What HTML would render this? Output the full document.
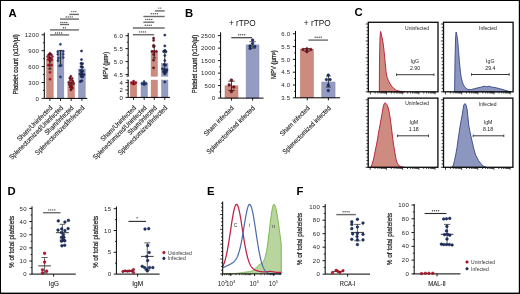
<!DOCTYPE html><html><head><meta charset="utf-8"><style>html,body{margin:0;padding:0;background:#fff;}svg{display:block;filter:blur(0.25px);}text{font-family:"Liberation Sans", sans-serif;}</style></head><body>
<svg width="520" height="294" viewBox="0 0 520 294">
<rect x="0" y="0" width="520" height="294" fill="#000"/>
<rect x="1" y="1" width="517.8" height="291.6" fill="#fff"/>
<text x="8.6" y="17" font-size="11.3" text-anchor="start" fill="#000" font-weight="bold">A</text>
<text x="184.9" y="16.8" font-size="11.3" text-anchor="start" fill="#000" font-weight="bold">B</text>
<text x="354.4" y="16.2" font-size="11.3" text-anchor="start" fill="#000" font-weight="bold">C</text>
<text x="7.4" y="195.4" font-size="11.3" text-anchor="start" fill="#000" font-weight="bold">D</text>
<text x="206.9" y="195.4" font-size="11.3" text-anchor="start" fill="#000" font-weight="bold">E</text>
<text x="296.6" y="195.4" font-size="11.3" text-anchor="start" fill="#000" font-weight="bold">F</text>
<line x1="44.3" y1="32.6" x2="44.3" y2="98.4" stroke="#000" stroke-width="1"/>
<line x1="41.6" y1="98.4" x2="44.3" y2="98.4" stroke="#000" stroke-width="0.9"/>
<text x="39.2" y="100.55" font-size="6.0" text-anchor="end" fill="#1e1e1e" letter-spacing="0.3">0</text>
<line x1="41.6" y1="82.5" x2="44.3" y2="82.5" stroke="#000" stroke-width="0.9"/>
<text x="39.2" y="84.65" font-size="6.0" text-anchor="end" fill="#1e1e1e" letter-spacing="0.3">300</text>
<line x1="41.6" y1="66.6" x2="44.3" y2="66.6" stroke="#000" stroke-width="0.9"/>
<text x="39.2" y="68.75" font-size="6.0" text-anchor="end" fill="#1e1e1e" letter-spacing="0.3">600</text>
<line x1="41.6" y1="50.7" x2="44.3" y2="50.7" stroke="#000" stroke-width="0.9"/>
<text x="39.2" y="52.85" font-size="6.0" text-anchor="end" fill="#1e1e1e" letter-spacing="0.3">900</text>
<line x1="41.6" y1="34.8" x2="44.3" y2="34.8" stroke="#000" stroke-width="0.9"/>
<text x="39.2" y="36.95" font-size="6.0" text-anchor="end" fill="#1e1e1e" letter-spacing="0.3">1200</text>
<line x1="42.9" y1="90.45" x2="44.3" y2="90.45" stroke="#000" stroke-width="0.8"/>
<line x1="42.9" y1="74.55" x2="44.3" y2="74.55" stroke="#000" stroke-width="0.8"/>
<line x1="42.9" y1="58.65" x2="44.3" y2="58.65" stroke="#000" stroke-width="0.8"/>
<line x1="42.9" y1="42.75" x2="44.3" y2="42.75" stroke="#000" stroke-width="0.8"/>
<rect x="46.6" y="59" width="6.6" height="39.4" fill="#cd8b7f" stroke="#bf7a6e" stroke-width="0.5"/>
<rect x="57.25" y="50.4" width="6.6" height="48" fill="#949cc2" stroke="#8088b3" stroke-width="0.5"/>
<rect x="67.9" y="83" width="6.6" height="15.4" fill="#cd8b7f" stroke="#bf7a6e" stroke-width="0.5"/>
<rect x="78.6" y="69" width="6.6" height="29.4" fill="#949cc2" stroke="#8088b3" stroke-width="0.5"/>
<line x1="44.3" y1="98.4" x2="87.3" y2="98.4" stroke="#000" stroke-width="1"/>
<line x1="49.9" y1="98.4" x2="49.9" y2="100.9" stroke="#000" stroke-width="0.9"/>
<line x1="60.55" y1="98.4" x2="60.55" y2="100.9" stroke="#000" stroke-width="0.9"/>
<line x1="71.2" y1="98.4" x2="71.2" y2="100.9" stroke="#000" stroke-width="0.9"/>
<line x1="81.9" y1="98.4" x2="81.9" y2="100.9" stroke="#000" stroke-width="0.9"/>
<circle cx="50" cy="53.3" r="1.1" fill="#c41230" stroke="#6a0a14" stroke-width="0.45"/>
<circle cx="48.6" cy="54.8" r="1.1" fill="#c41230" stroke="#6a0a14" stroke-width="0.45"/>
<circle cx="51.4" cy="54.8" r="1.1" fill="#c41230" stroke="#6a0a14" stroke-width="0.45"/>
<circle cx="47.6" cy="56.6" r="1.1" fill="#c41230" stroke="#6a0a14" stroke-width="0.45"/>
<circle cx="52.4" cy="56.6" r="1.1" fill="#c41230" stroke="#6a0a14" stroke-width="0.45"/>
<circle cx="49.2" cy="57.6" r="1.1" fill="#c41230" stroke="#6a0a14" stroke-width="0.45"/>
<circle cx="51" cy="58.2" r="1.1" fill="#c41230" stroke="#6a0a14" stroke-width="0.45"/>
<circle cx="48.2" cy="59.4" r="1.1" fill="#c41230" stroke="#6a0a14" stroke-width="0.45"/>
<circle cx="51.8" cy="59.6" r="1.1" fill="#c41230" stroke="#6a0a14" stroke-width="0.45"/>
<circle cx="50" cy="61" r="1.1" fill="#c41230" stroke="#6a0a14" stroke-width="0.45"/>
<circle cx="48.4" cy="65.2" r="1.1" fill="#c41230" stroke="#6a0a14" stroke-width="0.45"/>
<circle cx="51.6" cy="65.2" r="1.1" fill="#c41230" stroke="#6a0a14" stroke-width="0.45"/>
<circle cx="50" cy="72.3" r="1.1" fill="#c41230" stroke="#6a0a14" stroke-width="0.45"/>
<circle cx="50" cy="79.2" r="1.1" fill="#c41230" stroke="#6a0a14" stroke-width="0.45"/>
<line x1="49.9" y1="54" x2="49.9" y2="69" stroke="#111" stroke-width="0.9"/>
<line x1="48.2" y1="54" x2="51.6" y2="54" stroke="#111" stroke-width="0.9"/>
<line x1="48.2" y1="69" x2="51.6" y2="69" stroke="#111" stroke-width="0.9"/>
<line x1="60.55" y1="50.4" x2="60.55" y2="65.9" stroke="#111" stroke-width="0.8"/>
<line x1="58.85" y1="50.4" x2="62.25" y2="50.4" stroke="#111" stroke-width="0.8"/>
<line x1="58.85" y1="65.9" x2="62.25" y2="65.9" stroke="#111" stroke-width="0.8"/>
<circle cx="60.4" cy="44.3" r="1.1" fill="#2c4a94" stroke="#14265a" stroke-width="0.45"/>
<circle cx="57.8" cy="51.7" r="1.1" fill="#2c4a94" stroke="#14265a" stroke-width="0.45"/>
<circle cx="63.2" cy="51.3" r="1.1" fill="#2c4a94" stroke="#14265a" stroke-width="0.45"/>
<circle cx="57.8" cy="54.3" r="1.1" fill="#2c4a94" stroke="#14265a" stroke-width="0.45"/>
<circle cx="63.2" cy="54.3" r="1.1" fill="#2c4a94" stroke="#14265a" stroke-width="0.45"/>
<circle cx="58.4" cy="58.2" r="1.1" fill="#2c4a94" stroke="#14265a" stroke-width="0.45"/>
<circle cx="63.2" cy="57.5" r="1.1" fill="#2c4a94" stroke="#14265a" stroke-width="0.45"/>
<circle cx="58" cy="60.7" r="1.1" fill="#2c4a94" stroke="#14265a" stroke-width="0.45"/>
<circle cx="59.7" cy="65.9" r="1.1" fill="#2c4a94" stroke="#14265a" stroke-width="0.45"/>
<circle cx="61" cy="65.3" r="1.1" fill="#2c4a94" stroke="#14265a" stroke-width="0.45"/>
<circle cx="60.4" cy="76.9" r="1.1" fill="#2c4a94" stroke="#14265a" stroke-width="0.45"/>
<circle cx="70.8" cy="76.3" r="1.1" fill="#a30f22" stroke="#1f0004" stroke-width="0.45"/>
<circle cx="69.8" cy="78.2" r="1.1" fill="#a30f22" stroke="#1f0004" stroke-width="0.45"/>
<circle cx="72.2" cy="78.6" r="1.1" fill="#a30f22" stroke="#1f0004" stroke-width="0.45"/>
<circle cx="70.5" cy="80.2" r="1.1" fill="#a30f22" stroke="#1f0004" stroke-width="0.45"/>
<circle cx="72.8" cy="81.2" r="1.1" fill="#a30f22" stroke="#1f0004" stroke-width="0.45"/>
<circle cx="68.8" cy="82.3" r="1.1" fill="#a30f22" stroke="#1f0004" stroke-width="0.45"/>
<circle cx="71.2" cy="82.8" r="1.1" fill="#a30f22" stroke="#1f0004" stroke-width="0.45"/>
<circle cx="73.6" cy="83.4" r="1.1" fill="#a30f22" stroke="#1f0004" stroke-width="0.45"/>
<circle cx="69.6" cy="84.6" r="1.1" fill="#a30f22" stroke="#1f0004" stroke-width="0.45"/>
<circle cx="71.8" cy="85.6" r="1.1" fill="#a30f22" stroke="#1f0004" stroke-width="0.45"/>
<circle cx="70.4" cy="87.2" r="1.1" fill="#a30f22" stroke="#1f0004" stroke-width="0.45"/>
<circle cx="72.4" cy="88" r="1.1" fill="#a30f22" stroke="#1f0004" stroke-width="0.45"/>
<circle cx="71" cy="89.8" r="1.1" fill="#a30f22" stroke="#1f0004" stroke-width="0.45"/>
<line x1="81.9" y1="63" x2="81.9" y2="77" stroke="#111" stroke-width="0.8"/>
<line x1="80.2" y1="63" x2="83.6" y2="63" stroke="#111" stroke-width="0.8"/>
<line x1="80.2" y1="77" x2="83.6" y2="77" stroke="#111" stroke-width="0.8"/>
<circle cx="81.5" cy="51" r="1.1" fill="#1d3570" stroke="#081230" stroke-width="0.45"/>
<circle cx="81.5" cy="59.6" r="1.1" fill="#1d3570" stroke="#081230" stroke-width="0.45"/>
<circle cx="81" cy="63.6" r="1.1" fill="#1d3570" stroke="#081230" stroke-width="0.45"/>
<circle cx="82.4" cy="63.8" r="1.1" fill="#1d3570" stroke="#081230" stroke-width="0.45"/>
<circle cx="81" cy="66.7" r="1.1" fill="#1d3570" stroke="#081230" stroke-width="0.45"/>
<circle cx="82.6" cy="67.2" r="1.1" fill="#1d3570" stroke="#081230" stroke-width="0.45"/>
<circle cx="80.5" cy="70.6" r="1.1" fill="#1d3570" stroke="#081230" stroke-width="0.45"/>
<circle cx="82.8" cy="71" r="1.1" fill="#1d3570" stroke="#081230" stroke-width="0.45"/>
<circle cx="81.6" cy="72.5" r="1.1" fill="#1d3570" stroke="#081230" stroke-width="0.45"/>
<circle cx="80" cy="74" r="1.1" fill="#1d3570" stroke="#081230" stroke-width="0.45"/>
<circle cx="82.2" cy="74.2" r="1.1" fill="#1d3570" stroke="#081230" stroke-width="0.45"/>
<circle cx="84" cy="74.7" r="1.1" fill="#1d3570" stroke="#081230" stroke-width="0.45"/>
<circle cx="81" cy="76" r="1.1" fill="#1d3570" stroke="#081230" stroke-width="0.45"/>
<circle cx="82.5" cy="76.9" r="1.1" fill="#1d3570" stroke="#081230" stroke-width="0.45"/>
<circle cx="81.8" cy="80.8" r="1.1" fill="#1d3570" stroke="#081230" stroke-width="0.45"/>
<circle cx="80.3" cy="81.6" r="1.1" fill="#1d3570" stroke="#081230" stroke-width="0.45"/>
<line x1="50" y1="34.9" x2="69.1" y2="34.9" stroke="#6c6c6c" stroke-width="1.4"/>
<ellipse cx="55.6" cy="33" rx="0.72" ry="0.68" fill="#4a4a4a"/>
<ellipse cx="57.6" cy="33" rx="0.72" ry="0.68" fill="#4a4a4a"/>
<ellipse cx="59.6" cy="33" rx="0.72" ry="0.68" fill="#4a4a4a"/>
<ellipse cx="61.6" cy="33" rx="0.72" ry="0.68" fill="#4a4a4a"/>
<line x1="50" y1="29.9" x2="79" y2="29.9" stroke="#6c6c6c" stroke-width="1.4"/>
<ellipse cx="63.4" cy="27.8" rx="0.72" ry="0.68" fill="#4a4a4a"/>
<ellipse cx="65.4" cy="27.8" rx="0.72" ry="0.68" fill="#4a4a4a"/>
<line x1="60" y1="24.5" x2="69.1" y2="24.5" stroke="#6c6c6c" stroke-width="1.4"/>
<ellipse cx="60.8" cy="22.4" rx="0.72" ry="0.68" fill="#4a4a4a"/>
<ellipse cx="62.8" cy="22.4" rx="0.72" ry="0.68" fill="#4a4a4a"/>
<ellipse cx="64.8" cy="22.4" rx="0.72" ry="0.68" fill="#4a4a4a"/>
<ellipse cx="66.8" cy="22.4" rx="0.72" ry="0.68" fill="#4a4a4a"/>
<line x1="60" y1="19.1" x2="79" y2="19.1" stroke="#6c6c6c" stroke-width="1.4"/>
<ellipse cx="66.2" cy="16.9" rx="0.72" ry="0.68" fill="#4a4a4a"/>
<ellipse cx="68.2" cy="16.9" rx="0.72" ry="0.68" fill="#4a4a4a"/>
<ellipse cx="70.2" cy="16.9" rx="0.72" ry="0.68" fill="#4a4a4a"/>
<ellipse cx="72.2" cy="16.9" rx="0.72" ry="0.68" fill="#4a4a4a"/>
<line x1="69.2" y1="14.4" x2="79" y2="14.4" stroke="#6c6c6c" stroke-width="1.4"/>
<ellipse cx="71.8" cy="11.6" rx="0.72" ry="0.68" fill="#4a4a4a"/>
<ellipse cx="73.8" cy="11.6" rx="0.72" ry="0.68" fill="#4a4a4a"/>
<ellipse cx="75.8" cy="11.6" rx="0.72" ry="0.68" fill="#4a4a4a"/>
<text x="17.6" y="64.3" font-size="7.0" text-anchor="middle" fill="#1a1a1a" transform="rotate(-90 17.6 64.3)" textLength="60.3" lengthAdjust="spacingAndGlyphs" stroke="#1a1a1a" stroke-width="0.22">Platelet count (x10³/µl)</text>
<text x="52.9" y="108.4" font-size="6.9" text-anchor="end" fill="#1c1c1c" transform="rotate(-45 52.9 108.4)" textLength="47" lengthAdjust="spacingAndGlyphs" stroke="#1c1c1c" stroke-width="0.12">Sham/Uninfected</text>
<text x="63.55" y="108.4" font-size="6.9" text-anchor="end" fill="#1c1c1c" transform="rotate(-45 63.55 108.4)" textLength="73" lengthAdjust="spacingAndGlyphs" stroke="#1c1c1c" stroke-width="0.12">Splenectomized/Uninfected</text>
<text x="74.2" y="108.4" font-size="6.9" text-anchor="end" fill="#1c1c1c" transform="rotate(-45 74.2 108.4)" textLength="38" lengthAdjust="spacingAndGlyphs" stroke="#1c1c1c" stroke-width="0.12">Sham/Infected</text>
<text x="84.9" y="108.4" font-size="6.9" text-anchor="end" fill="#1c1c1c" transform="rotate(-45 84.9 108.4)" textLength="66.5" lengthAdjust="spacingAndGlyphs" stroke="#1c1c1c" stroke-width="0.12">Splenectomized/Infected</text>
<line x1="128.2" y1="32.9" x2="128.2" y2="76.2" stroke="#000" stroke-width="1"/>
<line x1="126.6" y1="76.2" x2="128.8" y2="76.2" stroke="#000" stroke-width="0.8"/>
<line x1="125.5" y1="35.7" x2="128.2" y2="35.7" stroke="#000" stroke-width="0.9"/>
<text x="123.1" y="37.85" font-size="6.0" text-anchor="end" fill="#1e1e1e" letter-spacing="0.3">6.0</text>
<line x1="125.5" y1="48.65" x2="128.2" y2="48.65" stroke="#000" stroke-width="0.9"/>
<text x="123.1" y="50.8" font-size="6.0" text-anchor="end" fill="#1e1e1e" letter-spacing="0.3">5.5</text>
<line x1="125.5" y1="61.6" x2="128.2" y2="61.6" stroke="#000" stroke-width="0.9"/>
<text x="123.1" y="63.75" font-size="6.0" text-anchor="end" fill="#1e1e1e" letter-spacing="0.3">5.0</text>
<line x1="125.5" y1="74.55" x2="128.2" y2="74.55" stroke="#000" stroke-width="0.9"/>
<text x="123.1" y="76.7" font-size="6.0" text-anchor="end" fill="#1e1e1e" letter-spacing="0.3">4.5</text>
<line x1="126.8" y1="42.18" x2="128.2" y2="42.18" stroke="#000" stroke-width="0.8"/>
<line x1="126.8" y1="55.12" x2="128.2" y2="55.12" stroke="#000" stroke-width="0.8"/>
<line x1="126.8" y1="68.08" x2="128.2" y2="68.08" stroke="#000" stroke-width="0.8"/>
<line x1="128.2" y1="80.1" x2="128.2" y2="97.4" stroke="#000" stroke-width="1"/>
<line x1="126.6" y1="80.1" x2="128.8" y2="80.1" stroke="#000" stroke-width="0.8"/>
<line x1="125.5" y1="82.6" x2="128.2" y2="82.6" stroke="#000" stroke-width="0.9"/>
<text x="123.1" y="84.75" font-size="6.0" text-anchor="end" fill="#1e1e1e" letter-spacing="0.3">4</text>
<line x1="125.5" y1="90" x2="128.2" y2="90" stroke="#000" stroke-width="0.9"/>
<text x="123.1" y="92.15" font-size="6.0" text-anchor="end" fill="#1e1e1e" letter-spacing="0.3">2</text>
<line x1="125.5" y1="97.4" x2="128.2" y2="97.4" stroke="#000" stroke-width="0.9"/>
<text x="123.1" y="99.55" font-size="6.0" text-anchor="end" fill="#1e1e1e" letter-spacing="0.3">0</text>
<line x1="126.8" y1="93.7" x2="128.2" y2="93.7" stroke="#000" stroke-width="0.8"/>
<line x1="126.8" y1="86.3" x2="128.2" y2="86.3" stroke="#000" stroke-width="0.8"/>
<rect x="130.35" y="83.5" width="6.3" height="13.9" fill="#cd8b7f" stroke="#bf7a6e" stroke-width="0.5"/>
<rect x="141.05" y="84" width="6.3" height="13.4" fill="#949cc2" stroke="#8088b3" stroke-width="0.5"/>
<rect x="151.1" y="80.1" width="6.3" height="17.3" fill="#cd8b7f" stroke="#bf7a6e" stroke-width="0.5"/>
<rect x="161.6" y="80.1" width="6.3" height="17.3" fill="#949cc2" stroke="#8088b3" stroke-width="0.5"/>
<rect x="151.1" y="52.3" width="6.3" height="23.9" fill="#cd8b7f" stroke="#bf7a6e" stroke-width="0.5"/>
<rect x="161.6" y="63.5" width="6.3" height="12.7" fill="#949cc2" stroke="#8088b3" stroke-width="0.5"/>
<line x1="128.2" y1="97.4" x2="170" y2="97.4" stroke="#000" stroke-width="1"/>
<line x1="133.5" y1="97.4" x2="133.5" y2="99.9" stroke="#000" stroke-width="0.9"/>
<line x1="144.2" y1="97.4" x2="144.2" y2="99.9" stroke="#000" stroke-width="0.9"/>
<line x1="154.25" y1="97.4" x2="154.25" y2="99.9" stroke="#000" stroke-width="0.9"/>
<line x1="164.75" y1="97.4" x2="164.75" y2="99.9" stroke="#000" stroke-width="0.9"/>
<circle cx="131.4" cy="82.6" r="1.1" fill="#c41230" stroke="#6a0a14" stroke-width="0.45"/>
<circle cx="133.6" cy="81.2" r="1.1" fill="#c41230" stroke="#6a0a14" stroke-width="0.45"/>
<circle cx="135.9" cy="82.6" r="1.1" fill="#c41230" stroke="#6a0a14" stroke-width="0.45"/>
<circle cx="133.6" cy="84" r="1.1" fill="#c41230" stroke="#6a0a14" stroke-width="0.45"/>
<circle cx="132.4" cy="83.5" r="1.1" fill="#c41230" stroke="#6a0a14" stroke-width="0.45"/>
<circle cx="134.8" cy="83.5" r="1.1" fill="#c41230" stroke="#6a0a14" stroke-width="0.45"/>
<line x1="133.6" y1="81.5" x2="133.6" y2="84.2" stroke="#111" stroke-width="0.9"/>
<circle cx="141.9" cy="83.4" r="1.1" fill="#2c4a94" stroke="#14265a" stroke-width="0.45"/>
<circle cx="144.1" cy="81.6" r="1.1" fill="#2c4a94" stroke="#14265a" stroke-width="0.45"/>
<circle cx="146.2" cy="83.4" r="1.1" fill="#2c4a94" stroke="#14265a" stroke-width="0.45"/>
<circle cx="144.1" cy="84.6" r="1.1" fill="#2c4a94" stroke="#14265a" stroke-width="0.45"/>
<circle cx="143" cy="83.9" r="1.1" fill="#2c4a94" stroke="#14265a" stroke-width="0.45"/>
<circle cx="145.2" cy="83.9" r="1.1" fill="#2c4a94" stroke="#14265a" stroke-width="0.45"/>
<line x1="144.1" y1="82" x2="144.1" y2="84.6" stroke="#111" stroke-width="0.9"/>
<line x1="154.25" y1="46" x2="154.25" y2="58" stroke="#111" stroke-width="0.8"/>
<line x1="152.65" y1="46" x2="155.85" y2="46" stroke="#111" stroke-width="0.8"/>
<line x1="152.65" y1="58" x2="155.85" y2="58" stroke="#111" stroke-width="0.8"/>
<circle cx="153.6" cy="38.2" r="1.1" fill="#a30f22" stroke="#1f0004" stroke-width="0.45"/>
<circle cx="153.6" cy="40.4" r="1.1" fill="#a30f22" stroke="#1f0004" stroke-width="0.45"/>
<circle cx="153.6" cy="45.3" r="1.1" fill="#a30f22" stroke="#1f0004" stroke-width="0.45"/>
<circle cx="153.6" cy="46.7" r="1.1" fill="#a30f22" stroke="#1f0004" stroke-width="0.45"/>
<circle cx="152" cy="51.4" r="1.1" fill="#a30f22" stroke="#1f0004" stroke-width="0.45"/>
<circle cx="154.2" cy="51.4" r="1.1" fill="#a30f22" stroke="#1f0004" stroke-width="0.45"/>
<circle cx="156.4" cy="51.4" r="1.1" fill="#a30f22" stroke="#1f0004" stroke-width="0.45"/>
<circle cx="153.6" cy="54.5" r="1.1" fill="#a30f22" stroke="#1f0004" stroke-width="0.45"/>
<circle cx="153.6" cy="60.2" r="1.1" fill="#a30f22" stroke="#1f0004" stroke-width="0.45"/>
<circle cx="153.6" cy="67.8" r="1.1" fill="#a30f22" stroke="#1f0004" stroke-width="0.45"/>
<line x1="164.75" y1="50.4" x2="164.75" y2="72.9" stroke="#111" stroke-width="0.8"/>
<line x1="162.95" y1="50.4" x2="166.55" y2="50.4" stroke="#111" stroke-width="0.8"/>
<line x1="162.95" y1="72.9" x2="166.55" y2="72.9" stroke="#111" stroke-width="0.8"/>
<circle cx="164.8" cy="35.1" r="1.1" fill="#1d3570" stroke="#081230" stroke-width="0.45"/>
<circle cx="164.8" cy="45.9" r="1.1" fill="#1d3570" stroke="#081230" stroke-width="0.45"/>
<circle cx="164.8" cy="50.4" r="1.1" fill="#1d3570" stroke="#081230" stroke-width="0.45"/>
<circle cx="163.6" cy="51.6" r="1.1" fill="#1d3570" stroke="#081230" stroke-width="0.45"/>
<circle cx="166" cy="51.8" r="1.1" fill="#1d3570" stroke="#081230" stroke-width="0.45"/>
<circle cx="164.8" cy="55.5" r="1.1" fill="#1d3570" stroke="#081230" stroke-width="0.45"/>
<circle cx="164.8" cy="60.6" r="1.1" fill="#1d3570" stroke="#081230" stroke-width="0.45"/>
<circle cx="164" cy="64.7" r="1.1" fill="#1d3570" stroke="#081230" stroke-width="0.45"/>
<circle cx="165.6" cy="64.9" r="1.1" fill="#1d3570" stroke="#081230" stroke-width="0.45"/>
<circle cx="162.5" cy="68.8" r="1.1" fill="#1d3570" stroke="#081230" stroke-width="0.45"/>
<circle cx="164.8" cy="69.8" r="1.1" fill="#1d3570" stroke="#081230" stroke-width="0.45"/>
<circle cx="167" cy="69.8" r="1.1" fill="#1d3570" stroke="#081230" stroke-width="0.45"/>
<circle cx="163.4" cy="71.6" r="1.1" fill="#1d3570" stroke="#081230" stroke-width="0.45"/>
<circle cx="166.2" cy="71.8" r="1.1" fill="#1d3570" stroke="#081230" stroke-width="0.45"/>
<circle cx="164.8" cy="73.9" r="1.1" fill="#1d3570" stroke="#081230" stroke-width="0.45"/>
<circle cx="164.8" cy="82" r="1.1" fill="#1d3570" stroke="#081230" stroke-width="0.45"/>
<line x1="132.9" y1="34.7" x2="154.2" y2="34.7" stroke="#6c6c6c" stroke-width="1.4"/>
<ellipse cx="139.5" cy="31.9" rx="0.72" ry="0.68" fill="#4a4a4a"/>
<ellipse cx="141.5" cy="31.9" rx="0.72" ry="0.68" fill="#4a4a4a"/>
<ellipse cx="143.5" cy="31.9" rx="0.72" ry="0.68" fill="#4a4a4a"/>
<ellipse cx="145.5" cy="31.9" rx="0.72" ry="0.68" fill="#4a4a4a"/>
<line x1="132.9" y1="28" x2="164.7" y2="28" stroke="#6c6c6c" stroke-width="1.4"/>
<ellipse cx="145.2" cy="25.2" rx="0.72" ry="0.68" fill="#4a4a4a"/>
<ellipse cx="147.2" cy="25.2" rx="0.72" ry="0.68" fill="#4a4a4a"/>
<ellipse cx="149.2" cy="25.2" rx="0.72" ry="0.68" fill="#4a4a4a"/>
<ellipse cx="151.2" cy="25.2" rx="0.72" ry="0.68" fill="#4a4a4a"/>
<line x1="143.4" y1="22.2" x2="154.2" y2="22.2" stroke="#6c6c6c" stroke-width="1.4"/>
<ellipse cx="145.8" cy="19.4" rx="0.72" ry="0.68" fill="#4a4a4a"/>
<ellipse cx="147.8" cy="19.4" rx="0.72" ry="0.68" fill="#4a4a4a"/>
<ellipse cx="149.8" cy="19.4" rx="0.72" ry="0.68" fill="#4a4a4a"/>
<ellipse cx="151.8" cy="19.4" rx="0.72" ry="0.68" fill="#4a4a4a"/>
<line x1="143.4" y1="16.5" x2="164.7" y2="16.5" stroke="#6c6c6c" stroke-width="1.4"/>
<ellipse cx="151.3" cy="13.7" rx="0.72" ry="0.68" fill="#4a4a4a"/>
<ellipse cx="153.3" cy="13.7" rx="0.72" ry="0.68" fill="#4a4a4a"/>
<ellipse cx="155.3" cy="13.7" rx="0.72" ry="0.68" fill="#4a4a4a"/>
<ellipse cx="157.3" cy="13.7" rx="0.72" ry="0.68" fill="#4a4a4a"/>
<line x1="154.9" y1="10.9" x2="164.7" y2="10.9" stroke="#6c6c6c" stroke-width="1.4"/>
<ellipse cx="158.8" cy="8.1" rx="0.72" ry="0.68" fill="#4a4a4a"/>
<ellipse cx="160.8" cy="8.1" rx="0.72" ry="0.68" fill="#4a4a4a"/>
<text x="107.8" y="65.7" font-size="7.0" text-anchor="middle" fill="#1a1a1a" transform="rotate(-90 107.8 65.7)" textLength="27.7" lengthAdjust="spacingAndGlyphs" stroke="#1a1a1a" stroke-width="0.22">MPV (µm³)</text>
<text x="136.5" y="108.4" font-size="6.9" text-anchor="end" fill="#1c1c1c" transform="rotate(-45 136.5 108.4)" textLength="47" lengthAdjust="spacingAndGlyphs" stroke="#1c1c1c" stroke-width="0.12">Sham/Uninfected</text>
<text x="147.2" y="108.4" font-size="6.9" text-anchor="end" fill="#1c1c1c" transform="rotate(-45 147.2 108.4)" textLength="73" lengthAdjust="spacingAndGlyphs" stroke="#1c1c1c" stroke-width="0.12">Splenectomized/Uninfected</text>
<text x="157.25" y="108.4" font-size="6.9" text-anchor="end" fill="#1c1c1c" transform="rotate(-45 157.25 108.4)" textLength="38" lengthAdjust="spacingAndGlyphs" stroke="#1c1c1c" stroke-width="0.12">Sham/Infected</text>
<text x="167.75" y="108.4" font-size="6.9" text-anchor="end" fill="#1c1c1c" transform="rotate(-45 167.75 108.4)" textLength="66.5" lengthAdjust="spacingAndGlyphs" stroke="#1c1c1c" stroke-width="0.12">Splenectomized/Infected</text>
<line x1="220.6" y1="32.3" x2="220.6" y2="98.1" stroke="#000" stroke-width="1"/>
<line x1="217.9" y1="98.1" x2="220.6" y2="98.1" stroke="#000" stroke-width="0.9"/>
<text x="215.5" y="100.25" font-size="6.0" text-anchor="end" fill="#1e1e1e" letter-spacing="0.3">0</text>
<line x1="217.9" y1="85.6" x2="220.6" y2="85.6" stroke="#000" stroke-width="0.9"/>
<text x="215.5" y="87.75" font-size="6.0" text-anchor="end" fill="#1e1e1e" letter-spacing="0.3">500</text>
<line x1="217.9" y1="73.1" x2="220.6" y2="73.1" stroke="#000" stroke-width="0.9"/>
<text x="215.5" y="75.25" font-size="6.0" text-anchor="end" fill="#1e1e1e" letter-spacing="0.3">1000</text>
<line x1="217.9" y1="60.6" x2="220.6" y2="60.6" stroke="#000" stroke-width="0.9"/>
<text x="215.5" y="62.75" font-size="6.0" text-anchor="end" fill="#1e1e1e" letter-spacing="0.3">1500</text>
<line x1="217.9" y1="48.1" x2="220.6" y2="48.1" stroke="#000" stroke-width="0.9"/>
<text x="215.5" y="50.25" font-size="6.0" text-anchor="end" fill="#1e1e1e" letter-spacing="0.3">2000</text>
<line x1="217.9" y1="35.6" x2="220.6" y2="35.6" stroke="#000" stroke-width="0.9"/>
<text x="215.5" y="37.75" font-size="6.0" text-anchor="end" fill="#1e1e1e" letter-spacing="0.3">2500</text>
<line x1="219.2" y1="91.85" x2="220.6" y2="91.85" stroke="#000" stroke-width="0.8"/>
<line x1="219.2" y1="79.35" x2="220.6" y2="79.35" stroke="#000" stroke-width="0.8"/>
<line x1="219.2" y1="66.85" x2="220.6" y2="66.85" stroke="#000" stroke-width="0.8"/>
<line x1="219.2" y1="54.35" x2="220.6" y2="54.35" stroke="#000" stroke-width="0.8"/>
<line x1="219.2" y1="41.85" x2="220.6" y2="41.85" stroke="#000" stroke-width="0.8"/>
<rect x="225" y="85.8" width="13" height="12.3" fill="#cd8b7f" stroke="#bf7a6e" stroke-width="0.5"/>
<rect x="246.1" y="44.9" width="12.9" height="53.2" fill="#949cc2" stroke="#8088b3" stroke-width="0.5"/>
<line x1="220.6" y1="98.1" x2="263.5" y2="98.1" stroke="#000" stroke-width="1"/>
<line x1="231.5" y1="98.1" x2="231.5" y2="100.6" stroke="#000" stroke-width="0.9"/>
<line x1="252.6" y1="98.1" x2="252.6" y2="100.6" stroke="#000" stroke-width="0.9"/>
<line x1="231.5" y1="81.2" x2="231.5" y2="90.4" stroke="#111" stroke-width="0.8"/>
<line x1="228.3" y1="81.2" x2="234.7" y2="81.2" stroke="#111" stroke-width="0.8"/>
<line x1="228.3" y1="90.4" x2="234.7" y2="90.4" stroke="#111" stroke-width="0.8"/>
<circle cx="231.4" cy="80" r="1.35" fill="#a30f22" stroke="#1f0004" stroke-width="0.45"/>
<circle cx="229.2" cy="84.9" r="1.35" fill="#a30f22" stroke="#1f0004" stroke-width="0.45"/>
<circle cx="233.8" cy="87" r="1.35" fill="#a30f22" stroke="#1f0004" stroke-width="0.45"/>
<circle cx="231.4" cy="91.6" r="1.35" fill="#a30f22" stroke="#1f0004" stroke-width="0.45"/>
<line x1="252.6" y1="41.7" x2="252.6" y2="48.3" stroke="#444" stroke-width="0.8"/>
<line x1="249.3" y1="41.7" x2="255.9" y2="41.7" stroke="#444" stroke-width="0.8"/>
<line x1="249.3" y1="48.3" x2="255.9" y2="48.3" stroke="#444" stroke-width="0.8"/>
<circle cx="252.6" cy="40.1" r="1.35" fill="#1d3570" stroke="#081230" stroke-width="0.45"/>
<circle cx="252.6" cy="43.5" r="1.35" fill="#1d3570" stroke="#081230" stroke-width="0.45"/>
<circle cx="250.1" cy="46" r="1.35" fill="#1d3570" stroke="#081230" stroke-width="0.45"/>
<circle cx="254.7" cy="46.6" r="1.35" fill="#1d3570" stroke="#081230" stroke-width="0.45"/>
<circle cx="250.1" cy="48.4" r="1.35" fill="#1d3570" stroke="#081230" stroke-width="0.45"/>
<line x1="231.3" y1="37.7" x2="252.1" y2="37.7" stroke="#3c3c3c" stroke-width="1.2"/>
<ellipse cx="238.7" cy="34.8" rx="0.72" ry="0.68" fill="#4a4a4a"/>
<ellipse cx="240.7" cy="34.8" rx="0.72" ry="0.68" fill="#4a4a4a"/>
<ellipse cx="242.7" cy="34.8" rx="0.72" ry="0.68" fill="#4a4a4a"/>
<ellipse cx="244.7" cy="34.8" rx="0.72" ry="0.68" fill="#4a4a4a"/>
<text x="242.3" y="26.4" font-size="8.9" text-anchor="middle" fill="#111" textLength="26.8" lengthAdjust="spacingAndGlyphs">+ rTPO</text>
<text x="197" y="64" font-size="7.0" text-anchor="middle" fill="#1a1a1a" transform="rotate(-90 197 64)" textLength="58.3" lengthAdjust="spacingAndGlyphs" stroke="#1a1a1a" stroke-width="0.22">Platelet count (x10³/µl)</text>
<text x="234.3" y="108.6" font-size="6.9" text-anchor="end" fill="#1c1c1c" transform="rotate(-45 234.3 108.6)" textLength="39.3" lengthAdjust="spacingAndGlyphs" stroke="#1c1c1c" stroke-width="0.12">Sham infected</text>
<text x="255.3" y="108.6" font-size="6.9" text-anchor="end" fill="#1c1c1c" transform="rotate(-45 255.3 108.6)" textLength="65" lengthAdjust="spacingAndGlyphs" stroke="#1c1c1c" stroke-width="0.12">Splenectomized infected</text>
<line x1="295.5" y1="31" x2="295.5" y2="97.8" stroke="#000" stroke-width="1"/>
<line x1="292.8" y1="97.8" x2="295.5" y2="97.8" stroke="#000" stroke-width="0.9"/>
<text x="290.4" y="99.95" font-size="6.0" text-anchor="end" fill="#1e1e1e" letter-spacing="0.3">3.5</text>
<line x1="292.8" y1="85" x2="295.5" y2="85" stroke="#000" stroke-width="0.9"/>
<text x="290.4" y="87.15" font-size="6.0" text-anchor="end" fill="#1e1e1e" letter-spacing="0.3">4.0</text>
<line x1="292.8" y1="72.2" x2="295.5" y2="72.2" stroke="#000" stroke-width="0.9"/>
<text x="290.4" y="74.35" font-size="6.0" text-anchor="end" fill="#1e1e1e" letter-spacing="0.3">4.5</text>
<line x1="292.8" y1="59.4" x2="295.5" y2="59.4" stroke="#000" stroke-width="0.9"/>
<text x="290.4" y="61.55" font-size="6.0" text-anchor="end" fill="#1e1e1e" letter-spacing="0.3">5.0</text>
<line x1="292.8" y1="46.6" x2="295.5" y2="46.6" stroke="#000" stroke-width="0.9"/>
<text x="290.4" y="48.75" font-size="6.0" text-anchor="end" fill="#1e1e1e" letter-spacing="0.3">5.5</text>
<line x1="292.8" y1="33.8" x2="295.5" y2="33.8" stroke="#000" stroke-width="0.9"/>
<text x="290.4" y="35.95" font-size="6.0" text-anchor="end" fill="#1e1e1e" letter-spacing="0.3">6.0</text>
<line x1="294.1" y1="91.4" x2="295.5" y2="91.4" stroke="#000" stroke-width="0.8"/>
<line x1="294.1" y1="78.6" x2="295.5" y2="78.6" stroke="#000" stroke-width="0.8"/>
<line x1="294.1" y1="65.8" x2="295.5" y2="65.8" stroke="#000" stroke-width="0.8"/>
<line x1="294.1" y1="53" x2="295.5" y2="53" stroke="#000" stroke-width="0.8"/>
<line x1="294.1" y1="40.2" x2="295.5" y2="40.2" stroke="#000" stroke-width="0.8"/>
<rect x="300.25" y="49.3" width="13.3" height="48.5" fill="#cd8b7f" stroke="#bf7a6e" stroke-width="0.5"/>
<rect x="321.75" y="82" width="13.3" height="15.8" fill="#949cc2" stroke="#8088b3" stroke-width="0.5"/>
<line x1="295.5" y1="97.8" x2="340.1" y2="97.8" stroke="#000" stroke-width="1"/>
<line x1="307.3" y1="97.8" x2="307.3" y2="100.3" stroke="#000" stroke-width="0.9"/>
<line x1="328.4" y1="97.8" x2="328.4" y2="100.3" stroke="#000" stroke-width="0.9"/>
<line x1="306.9" y1="48.6" x2="306.9" y2="51" stroke="#111" stroke-width="0.8"/>
<line x1="303.7" y1="48.6" x2="310.1" y2="48.6" stroke="#111" stroke-width="0.8"/>
<line x1="303.7" y1="51" x2="310.1" y2="51" stroke="#111" stroke-width="0.8"/>
<circle cx="302.9" cy="49.4" r="1.25" fill="#a30f22" stroke="#1f0004" stroke-width="0.45"/>
<circle cx="306.9" cy="48.8" r="1.25" fill="#a30f22" stroke="#1f0004" stroke-width="0.45"/>
<circle cx="310.9" cy="49.4" r="1.25" fill="#a30f22" stroke="#1f0004" stroke-width="0.45"/>
<circle cx="306.9" cy="51.8" r="1.25" fill="#a30f22" stroke="#1f0004" stroke-width="0.45"/>
<line x1="328.4" y1="76" x2="328.4" y2="87" stroke="#111" stroke-width="0.8"/>
<line x1="326" y1="76" x2="330.8" y2="76" stroke="#111" stroke-width="0.8"/>
<line x1="326" y1="87" x2="330.8" y2="87" stroke="#111" stroke-width="0.8"/>
<circle cx="328.3" cy="75" r="1.3" fill="#1d3570" stroke="#081230" stroke-width="0.45"/>
<circle cx="326.4" cy="79.6" r="1.3" fill="#1d3570" stroke="#081230" stroke-width="0.45"/>
<circle cx="330.1" cy="79.6" r="1.3" fill="#1d3570" stroke="#081230" stroke-width="0.45"/>
<circle cx="328.3" cy="85.1" r="1.3" fill="#1d3570" stroke="#081230" stroke-width="0.45"/>
<circle cx="328.3" cy="90.6" r="1.3" fill="#1d3570" stroke="#081230" stroke-width="0.45"/>
<line x1="308.4" y1="40.1" x2="328" y2="40.1" stroke="#6c6c6c" stroke-width="1.4"/>
<ellipse cx="315.2" cy="37.3" rx="0.72" ry="0.68" fill="#4a4a4a"/>
<ellipse cx="317.2" cy="37.3" rx="0.72" ry="0.68" fill="#4a4a4a"/>
<ellipse cx="319.2" cy="37.3" rx="0.72" ry="0.68" fill="#4a4a4a"/>
<ellipse cx="321.2" cy="37.3" rx="0.72" ry="0.68" fill="#4a4a4a"/>
<text x="317.2" y="26.3" font-size="8.9" text-anchor="middle" fill="#111" textLength="26.8" lengthAdjust="spacingAndGlyphs">+ rTPO</text>
<text x="275.6" y="64.6" font-size="7.0" text-anchor="middle" fill="#1a1a1a" transform="rotate(-90 275.6 64.6)" textLength="28.7" lengthAdjust="spacingAndGlyphs" stroke="#1a1a1a" stroke-width="0.22">MPV (µm³)</text>
<text x="310.3" y="108.6" font-size="6.9" text-anchor="end" fill="#1c1c1c" transform="rotate(-45 310.3 108.6)" textLength="39.3" lengthAdjust="spacingAndGlyphs" stroke="#1c1c1c" stroke-width="0.12">Sham infected</text>
<text x="331.3" y="108.6" font-size="6.9" text-anchor="end" fill="#1c1c1c" transform="rotate(-45 331.3 108.6)" textLength="65" lengthAdjust="spacingAndGlyphs" stroke="#1c1c1c" stroke-width="0.12">Splenectomized infected</text>
<path d="M379.3,91.8 L379.5,60 L380,38 L380.6,31.4 L381.8,36.5 L382.9,41.5 L384,50.4 L385.1,61.7 L386.2,72.9 L387.2,77.5 L388.5,80.7 L390,83.8 L391.8,86.3 L394,88.6 L396.3,90.4 L399,91.1 L402,91.5 L405,91.8 Z" fill="#ce8b7f" stroke="#b5173a" stroke-width="0.9"/>
<path d="M454.6,91.8 L455,60 L455.6,38 L456.1,32 L456.8,35 L457.4,38.1 L458,44 L458.5,50.4 L459.4,61.7 L460.5,72.9 L461.3,77.8 L462.3,81.8 L463.4,84.6 L464.6,86.8 L466.8,89 L469.1,89.7 L471.5,89.5 L474.7,88.6 L478,87.8 L481,87.2 L484.6,86.1 L486.5,86.8 L489,86.2 L491.5,87 L494,87.4 L497,88 L500,88.8 L503,89.6 L506,90.6 L509,91.4 L511,91.8 Z" fill="#8d96bf" stroke="#33478a" stroke-width="0.9"/>
<path d="M370.5,167.3 L372,164.5 L373.6,159 L375.2,151 L377,142 L378.5,133 L380,125 L381.8,115 L383.2,107 L384.2,103.5 L385.2,102.8 L386.3,103.8 L387.5,105.5 L389,111 L390.2,118 L391.1,125 L392.2,134 L393.2,142 L394.6,151 L395.8,158 L397,162.5 L398.8,165.5 L401.5,166.8 L404,167.3 Z" fill="#ce8b7f" stroke="#b5173a" stroke-width="0.9"/>
<path d="M451.9,167.3 L453.4,165 L454.5,160.5 L455.7,155 L457,147.5 L458,140 L459.2,132 L460.3,125 L461.3,119.5 L462.2,115 L463,109.5 L463.8,105 L464.8,103.6 L465.5,104 L466.2,105.5 L467.2,110 L467.9,117 L468.7,125 L470.2,133 L471.8,140 L473.6,148 L475.6,155 L478.5,160.5 L481.7,164.8 L484,166.5 L486.3,167.3 Z" fill="#8d96bf" stroke="#33478a" stroke-width="0.9"/>
<line x1="365.7" y1="91.8" x2="368.3" y2="91.8" stroke="#000" stroke-width="0.75"/>
<line x1="366.5" y1="88.41" x2="368.3" y2="88.41" stroke="#000" stroke-width="0.75"/>
<line x1="366.5" y1="85.02" x2="368.3" y2="85.02" stroke="#000" stroke-width="0.75"/>
<line x1="366.5" y1="81.63" x2="368.3" y2="81.63" stroke="#000" stroke-width="0.75"/>
<line x1="366.5" y1="78.24" x2="368.3" y2="78.24" stroke="#000" stroke-width="0.75"/>
<line x1="365.7" y1="74.85" x2="368.3" y2="74.85" stroke="#000" stroke-width="0.75"/>
<line x1="366.5" y1="71.46" x2="368.3" y2="71.46" stroke="#000" stroke-width="0.75"/>
<line x1="366.5" y1="68.07" x2="368.3" y2="68.07" stroke="#000" stroke-width="0.75"/>
<line x1="366.5" y1="64.68" x2="368.3" y2="64.68" stroke="#000" stroke-width="0.75"/>
<line x1="366.5" y1="61.29" x2="368.3" y2="61.29" stroke="#000" stroke-width="0.75"/>
<line x1="365.7" y1="57.9" x2="368.3" y2="57.9" stroke="#000" stroke-width="0.75"/>
<line x1="366.5" y1="54.51" x2="368.3" y2="54.51" stroke="#000" stroke-width="0.75"/>
<line x1="366.5" y1="51.12" x2="368.3" y2="51.12" stroke="#000" stroke-width="0.75"/>
<line x1="366.5" y1="47.73" x2="368.3" y2="47.73" stroke="#000" stroke-width="0.75"/>
<line x1="366.5" y1="44.34" x2="368.3" y2="44.34" stroke="#000" stroke-width="0.75"/>
<line x1="365.7" y1="40.95" x2="368.3" y2="40.95" stroke="#000" stroke-width="0.75"/>
<line x1="366.5" y1="37.56" x2="368.3" y2="37.56" stroke="#000" stroke-width="0.75"/>
<line x1="366.5" y1="34.17" x2="368.3" y2="34.17" stroke="#000" stroke-width="0.75"/>
<line x1="366.5" y1="30.78" x2="368.3" y2="30.78" stroke="#000" stroke-width="0.75"/>
<line x1="366.5" y1="27.39" x2="368.3" y2="27.39" stroke="#000" stroke-width="0.75"/>
<line x1="365.7" y1="24" x2="368.3" y2="24" stroke="#000" stroke-width="0.75"/>
<line x1="370.3" y1="91.8" x2="370.3" y2="94.4" stroke="#000" stroke-width="0.7"/>
<line x1="375.18" y1="91.8" x2="375.18" y2="93.5" stroke="#000" stroke-width="0.7"/>
<line x1="378.03" y1="91.8" x2="378.03" y2="93.5" stroke="#000" stroke-width="0.7"/>
<line x1="380.06" y1="91.8" x2="380.06" y2="93.5" stroke="#000" stroke-width="0.7"/>
<line x1="381.63" y1="91.8" x2="381.63" y2="93.5" stroke="#000" stroke-width="0.7"/>
<line x1="382.91" y1="91.8" x2="382.91" y2="93.5" stroke="#000" stroke-width="0.7"/>
<line x1="384" y1="91.8" x2="384" y2="93.5" stroke="#000" stroke-width="0.7"/>
<line x1="384.94" y1="91.8" x2="384.94" y2="93.5" stroke="#000" stroke-width="0.7"/>
<line x1="385.77" y1="91.8" x2="385.77" y2="93.5" stroke="#000" stroke-width="0.7"/>
<line x1="386.51" y1="91.8" x2="386.51" y2="94.4" stroke="#000" stroke-width="0.7"/>
<line x1="391.39" y1="91.8" x2="391.39" y2="93.5" stroke="#000" stroke-width="0.7"/>
<line x1="394.24" y1="91.8" x2="394.24" y2="93.5" stroke="#000" stroke-width="0.7"/>
<line x1="396.27" y1="91.8" x2="396.27" y2="93.5" stroke="#000" stroke-width="0.7"/>
<line x1="397.84" y1="91.8" x2="397.84" y2="93.5" stroke="#000" stroke-width="0.7"/>
<line x1="399.12" y1="91.8" x2="399.12" y2="93.5" stroke="#000" stroke-width="0.7"/>
<line x1="400.21" y1="91.8" x2="400.21" y2="93.5" stroke="#000" stroke-width="0.7"/>
<line x1="401.15" y1="91.8" x2="401.15" y2="93.5" stroke="#000" stroke-width="0.7"/>
<line x1="401.98" y1="91.8" x2="401.98" y2="93.5" stroke="#000" stroke-width="0.7"/>
<line x1="402.72" y1="91.8" x2="402.72" y2="94.4" stroke="#000" stroke-width="0.7"/>
<line x1="407.6" y1="91.8" x2="407.6" y2="93.5" stroke="#000" stroke-width="0.7"/>
<line x1="410.45" y1="91.8" x2="410.45" y2="93.5" stroke="#000" stroke-width="0.7"/>
<line x1="412.48" y1="91.8" x2="412.48" y2="93.5" stroke="#000" stroke-width="0.7"/>
<line x1="414.05" y1="91.8" x2="414.05" y2="93.5" stroke="#000" stroke-width="0.7"/>
<line x1="415.33" y1="91.8" x2="415.33" y2="93.5" stroke="#000" stroke-width="0.7"/>
<line x1="416.42" y1="91.8" x2="416.42" y2="93.5" stroke="#000" stroke-width="0.7"/>
<line x1="417.36" y1="91.8" x2="417.36" y2="93.5" stroke="#000" stroke-width="0.7"/>
<line x1="418.19" y1="91.8" x2="418.19" y2="93.5" stroke="#000" stroke-width="0.7"/>
<line x1="418.93" y1="91.8" x2="418.93" y2="94.4" stroke="#000" stroke-width="0.7"/>
<line x1="423.81" y1="91.8" x2="423.81" y2="93.5" stroke="#000" stroke-width="0.7"/>
<line x1="426.66" y1="91.8" x2="426.66" y2="93.5" stroke="#000" stroke-width="0.7"/>
<line x1="428.69" y1="91.8" x2="428.69" y2="93.5" stroke="#000" stroke-width="0.7"/>
<line x1="430.26" y1="91.8" x2="430.26" y2="93.5" stroke="#000" stroke-width="0.7"/>
<line x1="431.54" y1="91.8" x2="431.54" y2="93.5" stroke="#000" stroke-width="0.7"/>
<line x1="432.63" y1="91.8" x2="432.63" y2="93.5" stroke="#000" stroke-width="0.7"/>
<line x1="433.57" y1="91.8" x2="433.57" y2="93.5" stroke="#000" stroke-width="0.7"/>
<line x1="434.4" y1="91.8" x2="434.4" y2="93.5" stroke="#000" stroke-width="0.7"/>
<line x1="435.14" y1="91.8" x2="435.14" y2="94.4" stroke="#000" stroke-width="0.7"/>
<rect x="368.3" y="22.3" width="69.7" height="69.5" fill="none" stroke="#111" stroke-width="1.35"/>
<line x1="440.9" y1="91.8" x2="443.5" y2="91.8" stroke="#000" stroke-width="0.75"/>
<line x1="441.7" y1="88.41" x2="443.5" y2="88.41" stroke="#000" stroke-width="0.75"/>
<line x1="441.7" y1="85.02" x2="443.5" y2="85.02" stroke="#000" stroke-width="0.75"/>
<line x1="441.7" y1="81.63" x2="443.5" y2="81.63" stroke="#000" stroke-width="0.75"/>
<line x1="441.7" y1="78.24" x2="443.5" y2="78.24" stroke="#000" stroke-width="0.75"/>
<line x1="440.9" y1="74.85" x2="443.5" y2="74.85" stroke="#000" stroke-width="0.75"/>
<line x1="441.7" y1="71.46" x2="443.5" y2="71.46" stroke="#000" stroke-width="0.75"/>
<line x1="441.7" y1="68.07" x2="443.5" y2="68.07" stroke="#000" stroke-width="0.75"/>
<line x1="441.7" y1="64.68" x2="443.5" y2="64.68" stroke="#000" stroke-width="0.75"/>
<line x1="441.7" y1="61.29" x2="443.5" y2="61.29" stroke="#000" stroke-width="0.75"/>
<line x1="440.9" y1="57.9" x2="443.5" y2="57.9" stroke="#000" stroke-width="0.75"/>
<line x1="441.7" y1="54.51" x2="443.5" y2="54.51" stroke="#000" stroke-width="0.75"/>
<line x1="441.7" y1="51.12" x2="443.5" y2="51.12" stroke="#000" stroke-width="0.75"/>
<line x1="441.7" y1="47.73" x2="443.5" y2="47.73" stroke="#000" stroke-width="0.75"/>
<line x1="441.7" y1="44.34" x2="443.5" y2="44.34" stroke="#000" stroke-width="0.75"/>
<line x1="440.9" y1="40.95" x2="443.5" y2="40.95" stroke="#000" stroke-width="0.75"/>
<line x1="441.7" y1="37.56" x2="443.5" y2="37.56" stroke="#000" stroke-width="0.75"/>
<line x1="441.7" y1="34.17" x2="443.5" y2="34.17" stroke="#000" stroke-width="0.75"/>
<line x1="441.7" y1="30.78" x2="443.5" y2="30.78" stroke="#000" stroke-width="0.75"/>
<line x1="441.7" y1="27.39" x2="443.5" y2="27.39" stroke="#000" stroke-width="0.75"/>
<line x1="440.9" y1="24" x2="443.5" y2="24" stroke="#000" stroke-width="0.75"/>
<line x1="445.5" y1="91.8" x2="445.5" y2="94.4" stroke="#000" stroke-width="0.7"/>
<line x1="450.37" y1="91.8" x2="450.37" y2="93.5" stroke="#000" stroke-width="0.7"/>
<line x1="453.22" y1="91.8" x2="453.22" y2="93.5" stroke="#000" stroke-width="0.7"/>
<line x1="455.24" y1="91.8" x2="455.24" y2="93.5" stroke="#000" stroke-width="0.7"/>
<line x1="456.81" y1="91.8" x2="456.81" y2="93.5" stroke="#000" stroke-width="0.7"/>
<line x1="458.1" y1="91.8" x2="458.1" y2="93.5" stroke="#000" stroke-width="0.7"/>
<line x1="459.18" y1="91.8" x2="459.18" y2="93.5" stroke="#000" stroke-width="0.7"/>
<line x1="460.12" y1="91.8" x2="460.12" y2="93.5" stroke="#000" stroke-width="0.7"/>
<line x1="460.95" y1="91.8" x2="460.95" y2="93.5" stroke="#000" stroke-width="0.7"/>
<line x1="461.69" y1="91.8" x2="461.69" y2="94.4" stroke="#000" stroke-width="0.7"/>
<line x1="466.56" y1="91.8" x2="466.56" y2="93.5" stroke="#000" stroke-width="0.7"/>
<line x1="469.41" y1="91.8" x2="469.41" y2="93.5" stroke="#000" stroke-width="0.7"/>
<line x1="471.43" y1="91.8" x2="471.43" y2="93.5" stroke="#000" stroke-width="0.7"/>
<line x1="473" y1="91.8" x2="473" y2="93.5" stroke="#000" stroke-width="0.7"/>
<line x1="474.28" y1="91.8" x2="474.28" y2="93.5" stroke="#000" stroke-width="0.7"/>
<line x1="475.36" y1="91.8" x2="475.36" y2="93.5" stroke="#000" stroke-width="0.7"/>
<line x1="476.3" y1="91.8" x2="476.3" y2="93.5" stroke="#000" stroke-width="0.7"/>
<line x1="477.13" y1="91.8" x2="477.13" y2="93.5" stroke="#000" stroke-width="0.7"/>
<line x1="477.87" y1="91.8" x2="477.87" y2="94.4" stroke="#000" stroke-width="0.7"/>
<line x1="482.74" y1="91.8" x2="482.74" y2="93.5" stroke="#000" stroke-width="0.7"/>
<line x1="485.59" y1="91.8" x2="485.59" y2="93.5" stroke="#000" stroke-width="0.7"/>
<line x1="487.62" y1="91.8" x2="487.62" y2="93.5" stroke="#000" stroke-width="0.7"/>
<line x1="489.19" y1="91.8" x2="489.19" y2="93.5" stroke="#000" stroke-width="0.7"/>
<line x1="490.47" y1="91.8" x2="490.47" y2="93.5" stroke="#000" stroke-width="0.7"/>
<line x1="491.55" y1="91.8" x2="491.55" y2="93.5" stroke="#000" stroke-width="0.7"/>
<line x1="492.49" y1="91.8" x2="492.49" y2="93.5" stroke="#000" stroke-width="0.7"/>
<line x1="493.32" y1="91.8" x2="493.32" y2="93.5" stroke="#000" stroke-width="0.7"/>
<line x1="494.06" y1="91.8" x2="494.06" y2="94.4" stroke="#000" stroke-width="0.7"/>
<line x1="498.93" y1="91.8" x2="498.93" y2="93.5" stroke="#000" stroke-width="0.7"/>
<line x1="501.78" y1="91.8" x2="501.78" y2="93.5" stroke="#000" stroke-width="0.7"/>
<line x1="503.8" y1="91.8" x2="503.8" y2="93.5" stroke="#000" stroke-width="0.7"/>
<line x1="505.37" y1="91.8" x2="505.37" y2="93.5" stroke="#000" stroke-width="0.7"/>
<line x1="506.65" y1="91.8" x2="506.65" y2="93.5" stroke="#000" stroke-width="0.7"/>
<line x1="507.74" y1="91.8" x2="507.74" y2="93.5" stroke="#000" stroke-width="0.7"/>
<line x1="508.68" y1="91.8" x2="508.68" y2="93.5" stroke="#000" stroke-width="0.7"/>
<line x1="509.5" y1="91.8" x2="509.5" y2="93.5" stroke="#000" stroke-width="0.7"/>
<line x1="510.24" y1="91.8" x2="510.24" y2="94.4" stroke="#000" stroke-width="0.7"/>
<rect x="443.5" y="22.3" width="69.6" height="69.5" fill="none" stroke="#111" stroke-width="1.35"/>
<line x1="365.6" y1="167.3" x2="368.2" y2="167.3" stroke="#000" stroke-width="0.75"/>
<line x1="366.4" y1="163.92" x2="368.2" y2="163.92" stroke="#000" stroke-width="0.75"/>
<line x1="366.4" y1="160.55" x2="368.2" y2="160.55" stroke="#000" stroke-width="0.75"/>
<line x1="366.4" y1="157.17" x2="368.2" y2="157.17" stroke="#000" stroke-width="0.75"/>
<line x1="366.4" y1="153.8" x2="368.2" y2="153.8" stroke="#000" stroke-width="0.75"/>
<line x1="365.6" y1="150.42" x2="368.2" y2="150.42" stroke="#000" stroke-width="0.75"/>
<line x1="366.4" y1="147.05" x2="368.2" y2="147.05" stroke="#000" stroke-width="0.75"/>
<line x1="366.4" y1="143.67" x2="368.2" y2="143.67" stroke="#000" stroke-width="0.75"/>
<line x1="366.4" y1="140.3" x2="368.2" y2="140.3" stroke="#000" stroke-width="0.75"/>
<line x1="366.4" y1="136.92" x2="368.2" y2="136.92" stroke="#000" stroke-width="0.75"/>
<line x1="365.6" y1="133.54" x2="368.2" y2="133.54" stroke="#000" stroke-width="0.75"/>
<line x1="366.4" y1="130.17" x2="368.2" y2="130.17" stroke="#000" stroke-width="0.75"/>
<line x1="366.4" y1="126.79" x2="368.2" y2="126.79" stroke="#000" stroke-width="0.75"/>
<line x1="366.4" y1="123.42" x2="368.2" y2="123.42" stroke="#000" stroke-width="0.75"/>
<line x1="366.4" y1="120.04" x2="368.2" y2="120.04" stroke="#000" stroke-width="0.75"/>
<line x1="365.6" y1="116.67" x2="368.2" y2="116.67" stroke="#000" stroke-width="0.75"/>
<line x1="366.4" y1="113.29" x2="368.2" y2="113.29" stroke="#000" stroke-width="0.75"/>
<line x1="366.4" y1="109.91" x2="368.2" y2="109.91" stroke="#000" stroke-width="0.75"/>
<line x1="366.4" y1="106.54" x2="368.2" y2="106.54" stroke="#000" stroke-width="0.75"/>
<line x1="366.4" y1="103.16" x2="368.2" y2="103.16" stroke="#000" stroke-width="0.75"/>
<line x1="365.6" y1="99.79" x2="368.2" y2="99.79" stroke="#000" stroke-width="0.75"/>
<line x1="370.2" y1="167.3" x2="370.2" y2="169.9" stroke="#000" stroke-width="0.7"/>
<line x1="375.08" y1="167.3" x2="375.08" y2="169" stroke="#000" stroke-width="0.7"/>
<line x1="377.93" y1="167.3" x2="377.93" y2="169" stroke="#000" stroke-width="0.7"/>
<line x1="379.96" y1="167.3" x2="379.96" y2="169" stroke="#000" stroke-width="0.7"/>
<line x1="381.53" y1="167.3" x2="381.53" y2="169" stroke="#000" stroke-width="0.7"/>
<line x1="382.81" y1="167.3" x2="382.81" y2="169" stroke="#000" stroke-width="0.7"/>
<line x1="383.9" y1="167.3" x2="383.9" y2="169" stroke="#000" stroke-width="0.7"/>
<line x1="384.84" y1="167.3" x2="384.84" y2="169" stroke="#000" stroke-width="0.7"/>
<line x1="385.67" y1="167.3" x2="385.67" y2="169" stroke="#000" stroke-width="0.7"/>
<line x1="386.41" y1="167.3" x2="386.41" y2="169.9" stroke="#000" stroke-width="0.7"/>
<line x1="391.29" y1="167.3" x2="391.29" y2="169" stroke="#000" stroke-width="0.7"/>
<line x1="394.14" y1="167.3" x2="394.14" y2="169" stroke="#000" stroke-width="0.7"/>
<line x1="396.17" y1="167.3" x2="396.17" y2="169" stroke="#000" stroke-width="0.7"/>
<line x1="397.74" y1="167.3" x2="397.74" y2="169" stroke="#000" stroke-width="0.7"/>
<line x1="399.02" y1="167.3" x2="399.02" y2="169" stroke="#000" stroke-width="0.7"/>
<line x1="400.11" y1="167.3" x2="400.11" y2="169" stroke="#000" stroke-width="0.7"/>
<line x1="401.05" y1="167.3" x2="401.05" y2="169" stroke="#000" stroke-width="0.7"/>
<line x1="401.88" y1="167.3" x2="401.88" y2="169" stroke="#000" stroke-width="0.7"/>
<line x1="402.62" y1="167.3" x2="402.62" y2="169.9" stroke="#000" stroke-width="0.7"/>
<line x1="407.5" y1="167.3" x2="407.5" y2="169" stroke="#000" stroke-width="0.7"/>
<line x1="410.35" y1="167.3" x2="410.35" y2="169" stroke="#000" stroke-width="0.7"/>
<line x1="412.38" y1="167.3" x2="412.38" y2="169" stroke="#000" stroke-width="0.7"/>
<line x1="413.95" y1="167.3" x2="413.95" y2="169" stroke="#000" stroke-width="0.7"/>
<line x1="415.23" y1="167.3" x2="415.23" y2="169" stroke="#000" stroke-width="0.7"/>
<line x1="416.32" y1="167.3" x2="416.32" y2="169" stroke="#000" stroke-width="0.7"/>
<line x1="417.26" y1="167.3" x2="417.26" y2="169" stroke="#000" stroke-width="0.7"/>
<line x1="418.09" y1="167.3" x2="418.09" y2="169" stroke="#000" stroke-width="0.7"/>
<line x1="418.83" y1="167.3" x2="418.83" y2="169.9" stroke="#000" stroke-width="0.7"/>
<line x1="423.71" y1="167.3" x2="423.71" y2="169" stroke="#000" stroke-width="0.7"/>
<line x1="426.56" y1="167.3" x2="426.56" y2="169" stroke="#000" stroke-width="0.7"/>
<line x1="428.59" y1="167.3" x2="428.59" y2="169" stroke="#000" stroke-width="0.7"/>
<line x1="430.16" y1="167.3" x2="430.16" y2="169" stroke="#000" stroke-width="0.7"/>
<line x1="431.44" y1="167.3" x2="431.44" y2="169" stroke="#000" stroke-width="0.7"/>
<line x1="432.53" y1="167.3" x2="432.53" y2="169" stroke="#000" stroke-width="0.7"/>
<line x1="433.47" y1="167.3" x2="433.47" y2="169" stroke="#000" stroke-width="0.7"/>
<line x1="434.3" y1="167.3" x2="434.3" y2="169" stroke="#000" stroke-width="0.7"/>
<line x1="435.04" y1="167.3" x2="435.04" y2="169.9" stroke="#000" stroke-width="0.7"/>
<rect x="368.2" y="98.1" width="69.7" height="69.2" fill="none" stroke="#111" stroke-width="1.35"/>
<line x1="440.9" y1="167.3" x2="443.5" y2="167.3" stroke="#000" stroke-width="0.75"/>
<line x1="441.7" y1="163.92" x2="443.5" y2="163.92" stroke="#000" stroke-width="0.75"/>
<line x1="441.7" y1="160.55" x2="443.5" y2="160.55" stroke="#000" stroke-width="0.75"/>
<line x1="441.7" y1="157.17" x2="443.5" y2="157.17" stroke="#000" stroke-width="0.75"/>
<line x1="441.7" y1="153.8" x2="443.5" y2="153.8" stroke="#000" stroke-width="0.75"/>
<line x1="440.9" y1="150.42" x2="443.5" y2="150.42" stroke="#000" stroke-width="0.75"/>
<line x1="441.7" y1="147.05" x2="443.5" y2="147.05" stroke="#000" stroke-width="0.75"/>
<line x1="441.7" y1="143.67" x2="443.5" y2="143.67" stroke="#000" stroke-width="0.75"/>
<line x1="441.7" y1="140.3" x2="443.5" y2="140.3" stroke="#000" stroke-width="0.75"/>
<line x1="441.7" y1="136.92" x2="443.5" y2="136.92" stroke="#000" stroke-width="0.75"/>
<line x1="440.9" y1="133.54" x2="443.5" y2="133.54" stroke="#000" stroke-width="0.75"/>
<line x1="441.7" y1="130.17" x2="443.5" y2="130.17" stroke="#000" stroke-width="0.75"/>
<line x1="441.7" y1="126.79" x2="443.5" y2="126.79" stroke="#000" stroke-width="0.75"/>
<line x1="441.7" y1="123.42" x2="443.5" y2="123.42" stroke="#000" stroke-width="0.75"/>
<line x1="441.7" y1="120.04" x2="443.5" y2="120.04" stroke="#000" stroke-width="0.75"/>
<line x1="440.9" y1="116.67" x2="443.5" y2="116.67" stroke="#000" stroke-width="0.75"/>
<line x1="441.7" y1="113.29" x2="443.5" y2="113.29" stroke="#000" stroke-width="0.75"/>
<line x1="441.7" y1="109.91" x2="443.5" y2="109.91" stroke="#000" stroke-width="0.75"/>
<line x1="441.7" y1="106.54" x2="443.5" y2="106.54" stroke="#000" stroke-width="0.75"/>
<line x1="441.7" y1="103.16" x2="443.5" y2="103.16" stroke="#000" stroke-width="0.75"/>
<line x1="440.9" y1="99.79" x2="443.5" y2="99.79" stroke="#000" stroke-width="0.75"/>
<line x1="445.5" y1="167.3" x2="445.5" y2="169.9" stroke="#000" stroke-width="0.7"/>
<line x1="450.36" y1="167.3" x2="450.36" y2="169" stroke="#000" stroke-width="0.7"/>
<line x1="453.2" y1="167.3" x2="453.2" y2="169" stroke="#000" stroke-width="0.7"/>
<line x1="455.22" y1="167.3" x2="455.22" y2="169" stroke="#000" stroke-width="0.7"/>
<line x1="456.78" y1="167.3" x2="456.78" y2="169" stroke="#000" stroke-width="0.7"/>
<line x1="458.06" y1="167.3" x2="458.06" y2="169" stroke="#000" stroke-width="0.7"/>
<line x1="459.14" y1="167.3" x2="459.14" y2="169" stroke="#000" stroke-width="0.7"/>
<line x1="460.08" y1="167.3" x2="460.08" y2="169" stroke="#000" stroke-width="0.7"/>
<line x1="460.9" y1="167.3" x2="460.9" y2="169" stroke="#000" stroke-width="0.7"/>
<line x1="461.64" y1="167.3" x2="461.64" y2="169.9" stroke="#000" stroke-width="0.7"/>
<line x1="466.5" y1="167.3" x2="466.5" y2="169" stroke="#000" stroke-width="0.7"/>
<line x1="469.34" y1="167.3" x2="469.34" y2="169" stroke="#000" stroke-width="0.7"/>
<line x1="471.36" y1="167.3" x2="471.36" y2="169" stroke="#000" stroke-width="0.7"/>
<line x1="472.92" y1="167.3" x2="472.92" y2="169" stroke="#000" stroke-width="0.7"/>
<line x1="474.2" y1="167.3" x2="474.2" y2="169" stroke="#000" stroke-width="0.7"/>
<line x1="475.28" y1="167.3" x2="475.28" y2="169" stroke="#000" stroke-width="0.7"/>
<line x1="476.21" y1="167.3" x2="476.21" y2="169" stroke="#000" stroke-width="0.7"/>
<line x1="477.04" y1="167.3" x2="477.04" y2="169" stroke="#000" stroke-width="0.7"/>
<line x1="477.78" y1="167.3" x2="477.78" y2="169.9" stroke="#000" stroke-width="0.7"/>
<line x1="482.64" y1="167.3" x2="482.64" y2="169" stroke="#000" stroke-width="0.7"/>
<line x1="485.48" y1="167.3" x2="485.48" y2="169" stroke="#000" stroke-width="0.7"/>
<line x1="487.5" y1="167.3" x2="487.5" y2="169" stroke="#000" stroke-width="0.7"/>
<line x1="489.06" y1="167.3" x2="489.06" y2="169" stroke="#000" stroke-width="0.7"/>
<line x1="490.34" y1="167.3" x2="490.34" y2="169" stroke="#000" stroke-width="0.7"/>
<line x1="491.42" y1="167.3" x2="491.42" y2="169" stroke="#000" stroke-width="0.7"/>
<line x1="492.35" y1="167.3" x2="492.35" y2="169" stroke="#000" stroke-width="0.7"/>
<line x1="493.18" y1="167.3" x2="493.18" y2="169" stroke="#000" stroke-width="0.7"/>
<line x1="493.92" y1="167.3" x2="493.92" y2="169.9" stroke="#000" stroke-width="0.7"/>
<line x1="498.78" y1="167.3" x2="498.78" y2="169" stroke="#000" stroke-width="0.7"/>
<line x1="501.62" y1="167.3" x2="501.62" y2="169" stroke="#000" stroke-width="0.7"/>
<line x1="503.64" y1="167.3" x2="503.64" y2="169" stroke="#000" stroke-width="0.7"/>
<line x1="505.2" y1="167.3" x2="505.2" y2="169" stroke="#000" stroke-width="0.7"/>
<line x1="506.48" y1="167.3" x2="506.48" y2="169" stroke="#000" stroke-width="0.7"/>
<line x1="507.56" y1="167.3" x2="507.56" y2="169" stroke="#000" stroke-width="0.7"/>
<line x1="508.49" y1="167.3" x2="508.49" y2="169" stroke="#000" stroke-width="0.7"/>
<line x1="509.32" y1="167.3" x2="509.32" y2="169" stroke="#000" stroke-width="0.7"/>
<line x1="510.06" y1="167.3" x2="510.06" y2="169.9" stroke="#000" stroke-width="0.7"/>
<rect x="443.5" y="98.1" width="69.4" height="69.2" fill="none" stroke="#111" stroke-width="1.35"/>
<text x="417" y="29.5" font-size="5.0" text-anchor="middle" fill="#222">Uninfected</text>
<text x="487.9" y="29.5" font-size="5.0" text-anchor="middle" fill="#222">Infected</text>
<text x="417.1" y="105.2" font-size="5.0" text-anchor="middle" fill="#222">Uninfected</text>
<text x="487.7" y="105.6" font-size="5.0" text-anchor="middle" fill="#222">Infected</text>
<text x="414.8" y="63.4" font-size="5.2" text-anchor="middle" fill="#222">IgG</text>
<text x="415.1" y="69.6" font-size="5.2" text-anchor="middle" fill="#222">2.90</text>
<text x="490.3" y="63.4" font-size="5.2" text-anchor="middle" fill="#222">IgG</text>
<text x="490.4" y="69.6" font-size="5.2" text-anchor="middle" fill="#222">29.4</text>
<text x="413.8" y="124.3" font-size="5.2" text-anchor="middle" fill="#222">IgM</text>
<text x="413.7" y="130.7" font-size="5.2" text-anchor="middle" fill="#222">1.18</text>
<text x="488.1" y="124.3" font-size="5.2" text-anchor="middle" fill="#222">IgM</text>
<text x="488" y="131.1" font-size="5.2" text-anchor="middle" fill="#222">8.18</text>
<line x1="396.5" y1="74.7" x2="433.9" y2="74.7" stroke="#222" stroke-width="0.9"/>
<line x1="396.5" y1="73.4" x2="396.5" y2="76" stroke="#222" stroke-width="0.8"/>
<line x1="433.9" y1="73.4" x2="433.9" y2="76" stroke="#222" stroke-width="0.8"/>
<line x1="471.5" y1="74.5" x2="509.2" y2="74.5" stroke="#222" stroke-width="0.9"/>
<line x1="471.5" y1="73.2" x2="471.5" y2="75.8" stroke="#222" stroke-width="0.8"/>
<line x1="509.2" y1="73.2" x2="509.2" y2="75.8" stroke="#222" stroke-width="0.8"/>
<line x1="397.6" y1="135.8" x2="428.5" y2="135.8" stroke="#222" stroke-width="0.9"/>
<line x1="397.6" y1="134.5" x2="397.6" y2="137.1" stroke="#222" stroke-width="0.8"/>
<line x1="428.5" y1="134.5" x2="428.5" y2="137.1" stroke="#222" stroke-width="0.8"/>
<line x1="473.2" y1="135.8" x2="503.8" y2="135.8" stroke="#222" stroke-width="0.9"/>
<line x1="473.2" y1="134.5" x2="473.2" y2="137.1" stroke="#222" stroke-width="0.8"/>
<line x1="503.8" y1="134.5" x2="503.8" y2="137.1" stroke="#222" stroke-width="0.8"/>
<line x1="32" y1="206.4" x2="32" y2="274.2" stroke="#000" stroke-width="1"/>
<line x1="29.3" y1="274.2" x2="32" y2="274.2" stroke="#000" stroke-width="0.9"/>
<text x="26.9" y="276.35" font-size="6.0" text-anchor="end" fill="#1e1e1e" letter-spacing="0.3">0</text>
<line x1="29.3" y1="261.04" x2="32" y2="261.04" stroke="#000" stroke-width="0.9"/>
<text x="26.9" y="263.19" font-size="6.0" text-anchor="end" fill="#1e1e1e" letter-spacing="0.3">10</text>
<line x1="29.3" y1="247.88" x2="32" y2="247.88" stroke="#000" stroke-width="0.9"/>
<text x="26.9" y="250.03" font-size="6.0" text-anchor="end" fill="#1e1e1e" letter-spacing="0.3">20</text>
<line x1="29.3" y1="234.72" x2="32" y2="234.72" stroke="#000" stroke-width="0.9"/>
<text x="26.9" y="236.87" font-size="6.0" text-anchor="end" fill="#1e1e1e" letter-spacing="0.3">30</text>
<line x1="29.3" y1="221.56" x2="32" y2="221.56" stroke="#000" stroke-width="0.9"/>
<text x="26.9" y="223.71" font-size="6.0" text-anchor="end" fill="#1e1e1e" letter-spacing="0.3">40</text>
<line x1="29.3" y1="208.4" x2="32" y2="208.4" stroke="#000" stroke-width="0.9"/>
<text x="26.9" y="210.55" font-size="6.0" text-anchor="end" fill="#1e1e1e" letter-spacing="0.3">50</text>
<line x1="30.6" y1="267.62" x2="32" y2="267.62" stroke="#000" stroke-width="0.8"/>
<line x1="30.6" y1="254.46" x2="32" y2="254.46" stroke="#000" stroke-width="0.8"/>
<line x1="30.6" y1="241.3" x2="32" y2="241.3" stroke="#000" stroke-width="0.8"/>
<line x1="30.6" y1="228.14" x2="32" y2="228.14" stroke="#000" stroke-width="0.8"/>
<line x1="30.6" y1="214.98" x2="32" y2="214.98" stroke="#000" stroke-width="0.8"/>
<line x1="32" y1="274.1" x2="75.8" y2="274.1" stroke="#000" stroke-width="1"/>
<line x1="53.6" y1="274.1" x2="53.6" y2="276.6" stroke="#000" stroke-width="0.9"/>
<line x1="44.6" y1="257.5" x2="44.6" y2="273" stroke="#3a3a3a" stroke-width="0.8"/>
<line x1="41.5" y1="257.5" x2="47.7" y2="257.5" stroke="#3a3a3a" stroke-width="0.8"/>
<line x1="41.5" y1="273" x2="47.7" y2="273" stroke="#3a3a3a" stroke-width="0.8"/>
<line x1="38.3" y1="265.9" x2="50.9" y2="265.9" stroke="#3a3a3a" stroke-width="1"/>
<circle cx="44.6" cy="253.3" r="1.35" fill="#c41230" stroke="#6a0a14" stroke-width="0.45"/>
<circle cx="44.6" cy="262.1" r="1.35" fill="#c41230" stroke="#6a0a14" stroke-width="0.45"/>
<circle cx="42.5" cy="269.8" r="1.35" fill="#c41230" stroke="#6a0a14" stroke-width="0.45"/>
<circle cx="46.6" cy="271.2" r="1.35" fill="#c41230" stroke="#6a0a14" stroke-width="0.45"/>
<circle cx="42.5" cy="272.9" r="1.35" fill="#c41230" stroke="#6a0a14" stroke-width="0.45"/>
<line x1="62.4" y1="224.3" x2="62.4" y2="240" stroke="#3a3a3a" stroke-width="0.8"/>
<line x1="59.6" y1="224.3" x2="65.2" y2="224.3" stroke="#3a3a3a" stroke-width="0.8"/>
<line x1="59.6" y1="240" x2="65.2" y2="240" stroke="#3a3a3a" stroke-width="0.8"/>
<line x1="55.9" y1="232.7" x2="68.9" y2="232.7" stroke="#3a3a3a" stroke-width="1"/>
<circle cx="58.3" cy="220.9" r="1.35" fill="#1d3570" stroke="#081230" stroke-width="0.45"/>
<circle cx="64.9" cy="222.1" r="1.35" fill="#1d3570" stroke="#081230" stroke-width="0.45"/>
<circle cx="68.4" cy="220.4" r="1.35" fill="#1d3570" stroke="#081230" stroke-width="0.45"/>
<circle cx="58" cy="230.1" r="1.35" fill="#1d3570" stroke="#081230" stroke-width="0.45"/>
<circle cx="61.7" cy="228.9" r="1.35" fill="#1d3570" stroke="#081230" stroke-width="0.45"/>
<circle cx="64.9" cy="230.7" r="1.35" fill="#1d3570" stroke="#081230" stroke-width="0.45"/>
<circle cx="68.1" cy="228.6" r="1.35" fill="#1d3570" stroke="#081230" stroke-width="0.45"/>
<circle cx="61.4" cy="232.5" r="1.35" fill="#1d3570" stroke="#081230" stroke-width="0.45"/>
<circle cx="63.4" cy="234.6" r="1.35" fill="#1d3570" stroke="#081230" stroke-width="0.45"/>
<circle cx="61.5" cy="237.4" r="1.35" fill="#1d3570" stroke="#081230" stroke-width="0.45"/>
<circle cx="63.9" cy="237.4" r="1.35" fill="#1d3570" stroke="#081230" stroke-width="0.45"/>
<circle cx="63.4" cy="240.2" r="1.35" fill="#1d3570" stroke="#081230" stroke-width="0.45"/>
<circle cx="61.5" cy="241.2" r="1.35" fill="#1d3570" stroke="#081230" stroke-width="0.45"/>
<circle cx="64.8" cy="240.8" r="1.35" fill="#1d3570" stroke="#081230" stroke-width="0.45"/>
<circle cx="61.9" cy="245.8" r="1.35" fill="#1d3570" stroke="#081230" stroke-width="0.45"/>
<circle cx="64.7" cy="245.3" r="1.35" fill="#1d3570" stroke="#081230" stroke-width="0.45"/>
<line x1="43.1" y1="212.7" x2="60.5" y2="212.7" stroke="#6c6c6c" stroke-width="1.4"/>
<ellipse cx="48.8" cy="209.9" rx="0.72" ry="0.68" fill="#4a4a4a"/>
<ellipse cx="50.8" cy="209.9" rx="0.72" ry="0.68" fill="#4a4a4a"/>
<ellipse cx="52.8" cy="209.9" rx="0.72" ry="0.68" fill="#4a4a4a"/>
<ellipse cx="54.8" cy="209.9" rx="0.72" ry="0.68" fill="#4a4a4a"/>
<text x="53.8" y="285.6" font-size="6.5" text-anchor="middle" fill="#1e1e1e" textLength="10.1" lengthAdjust="spacingAndGlyphs" stroke="#1e1e1e" stroke-width="0.1">IgG</text>
<text x="14.1" y="241.9" font-size="7.6" text-anchor="middle" fill="#1a1a1a" transform="rotate(-90 14.1 241.9)" textLength="52.4" lengthAdjust="spacingAndGlyphs" stroke="#1a1a1a" stroke-width="0.22">% of total platelets</text>
<line x1="116.4" y1="206.5" x2="116.4" y2="274.1" stroke="#000" stroke-width="1"/>
<line x1="113.7" y1="274.1" x2="116.4" y2="274.1" stroke="#000" stroke-width="0.9"/>
<text x="111.3" y="276.25" font-size="6.0" text-anchor="end" fill="#1e1e1e" letter-spacing="0.3">0</text>
<line x1="113.7" y1="252.3" x2="116.4" y2="252.3" stroke="#000" stroke-width="0.9"/>
<text x="111.3" y="254.45" font-size="6.0" text-anchor="end" fill="#1e1e1e" letter-spacing="0.3">5</text>
<line x1="113.7" y1="230.5" x2="116.4" y2="230.5" stroke="#000" stroke-width="0.9"/>
<text x="111.3" y="232.65" font-size="6.0" text-anchor="end" fill="#1e1e1e" letter-spacing="0.3">10</text>
<line x1="113.7" y1="208.7" x2="116.4" y2="208.7" stroke="#000" stroke-width="0.9"/>
<text x="111.3" y="210.85" font-size="6.0" text-anchor="end" fill="#1e1e1e" letter-spacing="0.3">15</text>
<line x1="115" y1="263.2" x2="116.4" y2="263.2" stroke="#000" stroke-width="0.8"/>
<line x1="115" y1="241.4" x2="116.4" y2="241.4" stroke="#000" stroke-width="0.8"/>
<line x1="115" y1="219.6" x2="116.4" y2="219.6" stroke="#000" stroke-width="0.8"/>
<line x1="116.4" y1="274.1" x2="159.6" y2="274.1" stroke="#000" stroke-width="1"/>
<line x1="137.6" y1="274.1" x2="137.6" y2="276.6" stroke="#000" stroke-width="0.9"/>
<line x1="122" y1="271" x2="134" y2="271" stroke="#8a0a1a" stroke-width="0.9"/>
<circle cx="122.9" cy="271.6" r="1.2" fill="#c41230" stroke="#6a0a14" stroke-width="0.45"/>
<circle cx="125.1" cy="270.9" r="1.2" fill="#c41230" stroke="#6a0a14" stroke-width="0.45"/>
<circle cx="127.5" cy="271.2" r="1.2" fill="#c41230" stroke="#6a0a14" stroke-width="0.45"/>
<circle cx="129.3" cy="270.9" r="1.2" fill="#c41230" stroke="#6a0a14" stroke-width="0.45"/>
<circle cx="131.7" cy="270.9" r="1.2" fill="#c41230" stroke="#6a0a14" stroke-width="0.45"/>
<circle cx="133.5" cy="269.5" r="1.2" fill="#c41230" stroke="#6a0a14" stroke-width="0.45"/>
<circle cx="133.5" cy="272.5" r="1.2" fill="#c41230" stroke="#6a0a14" stroke-width="0.45"/>
<line x1="147.3" y1="242.9" x2="147.3" y2="270" stroke="#3a3a3a" stroke-width="0.8"/>
<line x1="144.3" y1="242.9" x2="150.3" y2="242.9" stroke="#3a3a3a" stroke-width="0.8"/>
<line x1="144.3" y1="270" x2="150.3" y2="270" stroke="#3a3a3a" stroke-width="0.8"/>
<line x1="141" y1="256.4" x2="153.6" y2="256.4" stroke="#3a3a3a" stroke-width="1"/>
<circle cx="145" cy="229.1" r="1.35" fill="#1d3570" stroke="#081230" stroke-width="0.45"/>
<circle cx="148.7" cy="228.7" r="1.35" fill="#1d3570" stroke="#081230" stroke-width="0.45"/>
<circle cx="147.7" cy="245.5" r="1.35" fill="#1d3570" stroke="#081230" stroke-width="0.45"/>
<circle cx="149.2" cy="252.5" r="1.35" fill="#1d3570" stroke="#081230" stroke-width="0.45"/>
<circle cx="146.8" cy="256.5" r="1.35" fill="#1d3570" stroke="#081230" stroke-width="0.45"/>
<circle cx="147.7" cy="260.6" r="1.35" fill="#1d3570" stroke="#081230" stroke-width="0.45"/>
<circle cx="142.2" cy="266.3" r="1.35" fill="#1d3570" stroke="#081230" stroke-width="0.45"/>
<circle cx="144.6" cy="267.6" r="1.35" fill="#1d3570" stroke="#081230" stroke-width="0.45"/>
<circle cx="149.5" cy="267.6" r="1.35" fill="#1d3570" stroke="#081230" stroke-width="0.45"/>
<circle cx="152.8" cy="267.6" r="1.35" fill="#1d3570" stroke="#081230" stroke-width="0.45"/>
<circle cx="146.8" cy="269.4" r="1.35" fill="#1d3570" stroke="#081230" stroke-width="0.45"/>
<circle cx="147.3" cy="270.9" r="1.35" fill="#1d3570" stroke="#081230" stroke-width="0.45"/>
<line x1="128.5" y1="221.4" x2="146" y2="221.4" stroke="#2a2a2a" stroke-width="1.1"/>
<ellipse cx="137.1" cy="217.8" rx="0.72" ry="0.68" fill="#4a4a4a"/>
<text x="137.7" y="285.6" font-size="6.5" text-anchor="middle" fill="#1e1e1e" textLength="10.9" lengthAdjust="spacingAndGlyphs" stroke="#1e1e1e" stroke-width="0.1">IgM</text>
<text x="98.1" y="241.9" font-size="7.6" text-anchor="middle" fill="#1a1a1a" transform="rotate(-90 98.1 241.9)" textLength="52.4" lengthAdjust="spacingAndGlyphs" stroke="#1a1a1a" stroke-width="0.22">% of total platelets</text>
<circle cx="163.9" cy="252.6" r="1.3" fill="#c41230" stroke="#6a0a14" stroke-width="0.45"/>
<text x="167.9" y="254.5" font-size="5.0" text-anchor="start" fill="#333">Uninfected</text>
<circle cx="163.9" cy="258.4" r="1.3" fill="#1d3570" stroke="#081230" stroke-width="0.45"/>
<text x="167.9" y="260.3" font-size="5.0" text-anchor="start" fill="#333">Infected</text>
<path d="M222.7,273.9 L222.7,273.89 L222.95,273.89 L223.2,273.89 L223.45,273.89 L223.7,273.89 L223.95,273.89 L224.2,273.89 L224.45,273.89 L224.7,273.89 L224.95,273.88 L225.2,273.88 L225.45,273.88 L225.7,273.88 L225.95,273.88 L226.2,273.88 L226.45,273.87 L226.7,273.87 L226.95,273.87 L227.2,273.86 L227.45,273.86 L227.7,273.86 L227.95,273.85 L228.2,273.85 L228.45,273.84 L228.7,273.84 L228.95,273.83 L229.2,273.83 L229.45,273.82 L229.7,273.82 L229.95,273.81 L230.2,273.8 L230.45,273.79 L230.7,273.79 L230.95,273.78 L231.2,273.77 L231.45,273.76 L231.7,273.75 L231.95,273.74 L232.2,273.72 L232.45,273.71 L232.7,273.7 L232.95,273.68 L233.2,273.67 L233.45,273.65 L233.7,273.64 L233.95,273.62 L234.2,273.6 L234.45,273.58 L234.7,273.57 L234.95,273.54 L235.2,273.52 L235.45,273.5 L235.7,273.48 L235.95,273.45 L236.2,273.43 L236.45,273.4 L236.7,273.38 L236.95,273.35 L237.2,273.32 L237.45,273.29 L237.7,273.26 L237.95,273.23 L238.2,273.2 L238.45,273.16 L238.7,273.13 L238.95,273.1 L239.2,273.06 L239.45,273.03 L239.7,272.99 L239.95,272.95 L240.2,272.92 L240.45,272.88 L240.7,272.84 L240.95,272.8 L241.2,272.76 L241.45,272.72 L241.7,272.68 L241.95,272.64 L242.2,272.6 L242.45,272.56 L242.7,272.52 L242.95,272.48 L243.2,272.44 L243.45,272.4 L243.7,272.37 L243.95,272.33 L244.2,272.29 L244.45,272.25 L244.7,272.21 L244.95,272.18 L245.2,272.14 L245.45,272.11 L245.7,272.07 L245.95,272.03 L246.2,272 L246.45,271.97 L246.7,271.93 L246.95,271.9 L247.2,271.86 L247.45,271.83 L247.7,271.79 L247.95,271.76 L248.2,271.72 L248.45,271.68 L248.7,271.64 L248.95,271.6 L249.2,271.56 L249.45,271.51 L249.7,271.46 L249.95,271.41 L250.2,271.35 L250.45,271.28 L250.7,271.22 L250.95,271.14 L251.2,271.06 L251.45,270.97 L251.7,270.88 L251.95,270.77 L252.2,270.66 L252.45,270.54 L252.7,270.41 L252.95,270.27 L253.2,270.12 L253.45,269.96 L253.7,269.79 L253.95,269.6 L254.2,269.41 L254.45,269.21 L254.7,269 L254.95,268.79 L255.2,268.56 L255.45,268.33 L255.7,268.09 L255.95,267.84 L256.2,267.6 L256.45,267.34 L256.7,267.09 L256.95,266.84 L257.2,266.58 L257.45,266.33 L257.7,266.08 L257.95,265.84 L258.2,265.6 L258.45,265.37 L258.7,265.15 L258.95,264.94 L259.2,264.73 L259.45,264.54 L259.7,264.35 L259.95,264.17 L260.2,263.99 L260.45,263.83 L260.7,263.66 L260.95,263.5 L261.2,263.34 L261.45,263.17 L261.7,263 L261.95,262.81 L262.2,262.61 L262.45,262.39 L262.7,262.14 L262.95,261.86 L263.2,261.55 L263.45,261.19 L263.7,260.79 L263.95,260.33 L264.2,259.81 L264.45,259.22 L264.7,258.56 L264.95,257.83 L265.2,257.01 L265.45,256.11 L265.7,255.12 L265.95,254.03 L266.2,252.85 L266.45,251.57 L266.7,250.2 L266.95,248.72 L267.2,247.16 L267.45,245.5 L267.7,243.76 L267.95,241.94 L268.2,240.04 L268.45,238.07 L268.7,236.05 L268.95,233.98 L269.2,231.88 L269.45,229.75 L269.7,227.61 L269.95,225.48 L270.2,223.37 L270.45,221.3 L270.7,219.28 L270.95,217.32 L271.2,215.45 L271.45,213.68 L271.7,212.02 L271.95,210.49 L272.2,209.1 L272.45,207.87 L272.7,206.8 L272.95,205.91 L273.2,205.2 L273.45,204.69 L273.7,204.37 L273.95,204.25 L274.2,204.31 L274.45,204.51 L274.7,204.84 L274.95,205.31 L275.2,205.91 L275.45,206.63 L275.7,207.48 L275.95,208.44 L276.2,209.52 L276.45,210.71 L276.7,212 L276.95,213.38 L277.2,214.85 L277.45,216.4 L277.7,218.01 L277.95,219.69 L278.2,221.43 L278.45,223.21 L278.7,225.02 L278.95,226.87 L279.2,228.74 L279.45,230.61 L279.7,232.5 L279.95,234.37 L280.2,236.24 L280.45,238.1 L280.7,239.92 L280.95,241.72 L281.2,243.49 L281.3,273.9 Z" fill="#b8d59f" stroke="none" stroke-width="1" stroke-linejoin="round"/>
<path d="M222.7,273.89 L222.95,273.89 L223.2,273.89 L223.45,273.89 L223.7,273.89 L223.95,273.89 L224.2,273.89 L224.45,273.89 L224.7,273.89 L224.95,273.88 L225.2,273.88 L225.45,273.88 L225.7,273.88 L225.95,273.88 L226.2,273.88 L226.45,273.87 L226.7,273.87 L226.95,273.87 L227.2,273.86 L227.45,273.86 L227.7,273.86 L227.95,273.85 L228.2,273.85 L228.45,273.84 L228.7,273.84 L228.95,273.83 L229.2,273.83 L229.45,273.82 L229.7,273.82 L229.95,273.81 L230.2,273.8 L230.45,273.79 L230.7,273.79 L230.95,273.78 L231.2,273.77 L231.45,273.76 L231.7,273.75 L231.95,273.74 L232.2,273.72 L232.45,273.71 L232.7,273.7 L232.95,273.68 L233.2,273.67 L233.45,273.65 L233.7,273.64 L233.95,273.62 L234.2,273.6 L234.45,273.58 L234.7,273.57 L234.95,273.54 L235.2,273.52 L235.45,273.5 L235.7,273.48 L235.95,273.45 L236.2,273.43 L236.45,273.4 L236.7,273.38 L236.95,273.35 L237.2,273.32 L237.45,273.29 L237.7,273.26 L237.95,273.23 L238.2,273.2 L238.45,273.16 L238.7,273.13 L238.95,273.1 L239.2,273.06 L239.45,273.03 L239.7,272.99 L239.95,272.95 L240.2,272.92 L240.45,272.88 L240.7,272.84 L240.95,272.8 L241.2,272.76 L241.45,272.72 L241.7,272.68 L241.95,272.64 L242.2,272.6 L242.45,272.56 L242.7,272.52 L242.95,272.48 L243.2,272.44 L243.45,272.4 L243.7,272.37 L243.95,272.33 L244.2,272.29 L244.45,272.25 L244.7,272.21 L244.95,272.18 L245.2,272.14 L245.45,272.11 L245.7,272.07 L245.95,272.03 L246.2,272 L246.45,271.97 L246.7,271.93 L246.95,271.9 L247.2,271.86 L247.45,271.83 L247.7,271.79 L247.95,271.76 L248.2,271.72 L248.45,271.68 L248.7,271.64 L248.95,271.6 L249.2,271.56 L249.45,271.51 L249.7,271.46 L249.95,271.41 L250.2,271.35 L250.45,271.28 L250.7,271.22 L250.95,271.14 L251.2,271.06 L251.45,270.97 L251.7,270.88 L251.95,270.77 L252.2,270.66 L252.45,270.54 L252.7,270.41 L252.95,270.27 L253.2,270.12 L253.45,269.96 L253.7,269.79 L253.95,269.6 L254.2,269.41 L254.45,269.21 L254.7,269 L254.95,268.79 L255.2,268.56 L255.45,268.33 L255.7,268.09 L255.95,267.84 L256.2,267.6 L256.45,267.34 L256.7,267.09 L256.95,266.84 L257.2,266.58 L257.45,266.33 L257.7,266.08 L257.95,265.84 L258.2,265.6 L258.45,265.37 L258.7,265.15 L258.95,264.94 L259.2,264.73 L259.45,264.54 L259.7,264.35 L259.95,264.17 L260.2,263.99 L260.45,263.83 L260.7,263.66 L260.95,263.5 L261.2,263.34 L261.45,263.17 L261.7,263 L261.95,262.81 L262.2,262.61 L262.45,262.39 L262.7,262.14 L262.95,261.86 L263.2,261.55 L263.45,261.19 L263.7,260.79 L263.95,260.33 L264.2,259.81 L264.45,259.22 L264.7,258.56 L264.95,257.83 L265.2,257.01 L265.45,256.11 L265.7,255.12 L265.95,254.03 L266.2,252.85 L266.45,251.57 L266.7,250.2 L266.95,248.72 L267.2,247.16 L267.45,245.5 L267.7,243.76 L267.95,241.94 L268.2,240.04 L268.45,238.07 L268.7,236.05 L268.95,233.98 L269.2,231.88 L269.45,229.75 L269.7,227.61 L269.95,225.48 L270.2,223.37 L270.45,221.3 L270.7,219.28 L270.95,217.32 L271.2,215.45 L271.45,213.68 L271.7,212.02 L271.95,210.49 L272.2,209.1 L272.45,207.87 L272.7,206.8 L272.95,205.91 L273.2,205.2 L273.45,204.69 L273.7,204.37 L273.95,204.25 L274.2,204.31 L274.45,204.51 L274.7,204.84 L274.95,205.31 L275.2,205.91 L275.45,206.63 L275.7,207.48 L275.95,208.44 L276.2,209.52 L276.45,210.71 L276.7,212 L276.95,213.38 L277.2,214.85 L277.45,216.4 L277.7,218.01 L277.95,219.69 L278.2,221.43 L278.45,223.21 L278.7,225.02 L278.95,226.87 L279.2,228.74 L279.45,230.61 L279.7,232.5 L279.95,234.37 L280.2,236.24 L280.45,238.1 L280.7,239.92 L280.95,241.72 L281.2,243.49 L281.3,273.9" fill="none" stroke="#7cb54c" stroke-width="1.0" stroke-linejoin="round"/>
<path d="M222.7,266.5 L222.95,266 L223.2,265.47 L223.45,264.91 L223.7,264.31 L223.95,263.66 L224.2,262.98 L224.45,262.26 L224.7,261.49 L224.95,260.67 L225.2,259.81 L225.45,258.9 L225.7,257.95 L225.95,256.94 L226.2,255.88 L226.45,254.78 L226.7,253.62 L226.95,252.41 L227.2,251.16 L227.45,249.85 L227.7,248.5 L227.95,247.1 L228.2,245.66 L228.45,244.18 L228.7,242.65 L228.95,241.1 L229.2,239.51 L229.45,237.89 L229.7,236.25 L229.95,234.59 L230.2,232.92 L230.45,231.23 L230.7,229.55 L230.95,227.86 L231.2,226.19 L231.45,224.53 L231.7,222.89 L231.95,221.28 L232.2,219.71 L232.45,218.18 L232.7,216.69 L232.95,215.27 L233.2,213.9 L233.45,212.61 L233.7,211.39 L233.95,210.25 L234.2,209.2 L234.45,208.24 L234.7,207.37 L234.95,206.61 L235.2,205.96 L235.45,205.41 L235.7,204.97 L235.95,204.65 L236.2,204.44 L236.45,204.36 L236.7,204.38 L236.95,204.53 L237.2,204.78 L237.45,205.16 L237.7,205.64 L237.95,206.24 L238.2,206.93 L238.45,207.74 L238.7,208.63 L238.95,209.62 L239.2,210.7 L239.45,211.86 L239.7,213.09 L239.95,214.39 L240.2,215.76 L240.45,217.18 L240.7,218.65 L240.95,220.16 L241.2,221.71 L241.45,223.29 L241.7,224.89 L241.95,226.5 L242.2,228.13 L242.45,229.76 L242.7,231.39 L242.95,233.01 L243.2,234.61 L243.45,236.21 L243.7,237.78 L243.95,239.32 L244.2,240.84 L244.45,242.32 L244.7,243.77 L244.95,245.19 L245.2,246.56 L245.45,247.9 L245.7,249.19 L245.95,250.44 L246.2,251.64 L246.45,252.8 L246.7,253.92 L246.95,254.99 L247.2,256.02 L247.45,257 L247.7,257.93 L247.95,258.81 L248.2,259.64 L248.45,260.43 L248.7,261.17 L248.95,261.87 L249.2,262.52 L249.45,263.14 L249.7,263.72 L249.95,264.27 L250.2,264.77 L250.45,265.25 L250.7,265.69 L250.95,266.11 L251.2,266.49 L251.45,266.85 L251.7,267.19 L251.95,267.5 L252.2,267.79 L252.45,268.06 L252.7,268.31 L252.95,268.55 L253.2,268.77 L253.45,268.97 L253.7,269.16 L253.95,269.34 L254.2,269.5 L254.45,269.66 L254.7,269.8 L254.95,269.94 L255.2,270.07 L255.45,270.19 L255.7,270.3 L255.95,270.4 L256.2,270.5 L256.45,270.6 L256.7,270.68 L256.95,270.77 L257.2,270.85 L257.45,270.92 L257.7,270.99 L257.95,271.06 L258.2,271.12 L258.45,271.18 L258.7,271.24 L258.95,271.3 L259.2,271.35 L259.45,271.4 L259.7,271.45 L259.95,271.49 L260.2,271.53 L260.45,271.57 L260.7,271.61 L260.95,271.65 L261.2,271.68 L261.45,271.71 L261.7,271.74 L261.95,271.77 L262.2,271.79 L262.45,271.82 L262.7,271.84 L262.95,271.85 L263.2,271.87 L263.45,271.88 L263.7,271.89 L263.95,271.89 L264.2,271.89 L264.45,271.89 L264.7,271.88 L264.95,271.87 L265.2,271.86 L265.45,271.85 L265.7,271.83 L265.95,271.8 L266.2,271.78 L266.45,271.75 L266.7,271.72 L266.95,271.69 L267.2,271.66 L267.45,271.63 L267.7,271.6 L267.95,271.57 L268.2,271.54 L268.45,271.52 L268.7,271.5 L268.95,271.48 L269.2,271.47 L269.45,271.46 L269.7,271.45 L269.95,271.46 L270.2,271.46 L270.45,271.48 L270.7,271.49 L270.95,271.52 L271.2,271.54 L271.45,271.58 L271.7,271.61 L271.95,271.65 L272.2,271.69 L272.45,271.73 L272.7,271.78 L272.95,271.82 L273.2,271.87 L273.45,271.91 L273.7,271.95 L273.95,272 L274.2,272.03 L274.45,272.07 L274.7,272.11 L274.95,272.14 L275.2,272.17 L275.45,272.2 L275.7,272.22 L275.95,272.24 L276.2,272.26 L276.45,272.28 L276.7,272.29 L276.95,272.3 L277.2,272.32 L277.45,272.32 L277.7,272.33 L277.95,272.34 L278.2,272.34 L278.45,272.35 L278.7,272.35 L278.95,272.36 L279.2,272.36 L279.45,272.36 L279.7,272.36 L279.95,272.36 L280.2,272.37 L280.45,272.37 L280.7,272.37 L280.95,272.37 L281.2,272.37" fill="none" stroke="#c21f48" stroke-width="1.25" stroke-linejoin="round"/>
<path d="M222.7,267.71 L222.95,267.61 L223.2,267.5 L223.45,267.4 L223.7,267.29 L223.95,267.18 L224.2,267.07 L224.45,266.96 L224.7,266.85 L224.95,266.74 L225.2,266.63 L225.45,266.52 L225.7,266.41 L225.95,266.3 L226.2,266.18 L226.45,266.07 L226.7,265.95 L226.95,265.84 L227.2,265.72 L227.45,265.6 L227.7,265.49 L227.95,265.37 L228.2,265.25 L228.45,265.13 L228.7,265 L228.95,264.88 L229.2,264.76 L229.45,264.63 L229.7,264.5 L229.95,264.37 L230.2,264.24 L230.45,264.11 L230.7,263.97 L230.95,263.83 L231.2,263.68 L231.45,263.54 L231.7,263.38 L231.95,263.23 L232.2,263.06 L232.45,262.89 L232.7,262.72 L232.95,262.53 L233.2,262.34 L233.45,262.14 L233.7,261.92 L233.95,261.7 L234.2,261.46 L234.45,261.2 L234.7,260.93 L234.95,260.65 L235.2,260.34 L235.45,260.01 L235.7,259.67 L235.95,259.29 L236.2,258.9 L236.45,258.47 L236.7,258.02 L236.95,257.53 L237.2,257.01 L237.45,256.46 L237.7,255.87 L237.95,255.24 L238.2,254.58 L238.45,253.87 L238.7,253.11 L238.95,252.32 L239.2,251.47 L239.45,250.58 L239.7,249.64 L239.95,248.66 L240.2,247.63 L240.45,246.54 L240.7,245.41 L240.95,244.24 L241.2,243.01 L241.45,241.75 L241.7,240.43 L241.95,239.08 L242.2,237.69 L242.45,236.27 L242.7,234.82 L242.95,233.33 L243.2,231.83 L243.45,230.3 L243.7,228.77 L243.95,227.22 L244.2,225.68 L244.45,224.14 L244.7,222.61 L244.95,221.1 L245.2,219.61 L245.45,218.16 L245.7,216.74 L245.95,215.37 L246.2,214.05 L246.45,212.79 L246.7,211.6 L246.95,210.47 L247.2,209.43 L247.45,208.48 L247.7,207.61 L247.95,206.84 L248.2,206.17 L248.45,205.6 L248.7,205.14 L248.95,204.79 L249.2,204.55 L249.45,204.42 L249.7,204.41 L249.95,204.51 L250.2,204.71 L250.45,205.03 L250.7,205.45 L250.95,205.98 L251.2,206.61 L251.45,207.33 L251.7,208.16 L251.95,209.07 L252.2,210.07 L252.45,211.16 L252.7,212.32 L252.95,213.56 L253.2,214.87 L253.45,216.24 L253.7,217.66 L253.95,219.14 L254.2,220.66 L254.45,222.22 L254.7,223.82 L254.95,225.44 L255.2,227.08 L255.45,228.74 L255.7,230.41 L255.95,232.08 L256.2,233.75 L256.45,235.42 L256.7,237.07 L256.95,238.71 L257.2,240.33 L257.45,241.92 L257.7,243.49 L257.95,245.02 L258.2,246.53 L258.45,247.99 L258.7,249.41 L258.95,250.8 L259.2,252.13 L259.45,253.43 L259.7,254.67 L259.95,255.87 L260.2,257.02 L260.45,258.13 L260.7,259.18 L260.95,260.19 L261.2,261.14 L261.45,262.05 L261.7,262.91 L261.95,263.73 L262.2,264.49 L262.45,265.22 L262.7,265.9 L262.95,266.54 L263.2,267.14 L263.45,267.7 L263.7,268.22 L263.95,268.71 L264.2,269.16 L264.45,269.58 L264.7,269.97 L264.95,270.33 L265.2,270.66 L265.45,270.97 L265.7,271.25 L265.95,271.5 L266.2,271.74 L266.45,271.96 L266.7,272.15 L266.95,272.33 L267.2,272.5 L267.45,272.64 L267.7,272.78 L267.95,272.9 L268.2,273.01 L268.45,273.11 L268.7,273.2 L268.95,273.28 L269.2,273.35 L269.45,273.41 L269.7,273.47 L269.95,273.52 L270.2,273.57 L270.45,273.61 L270.7,273.65 L270.95,273.68 L271.2,273.71 L271.45,273.73 L271.7,273.75 L271.95,273.77 L272.2,273.79 L272.45,273.8 L272.7,273.82 L272.95,273.83 L273.2,273.84 L273.45,273.85 L273.7,273.85 L273.95,273.86 L274.2,273.87 L274.45,273.87 L274.7,273.88 L274.95,273.88 L275.2,273.88 L275.45,273.88 L275.7,273.89 L275.95,273.89 L276.2,273.89 L276.45,273.89 L276.7,273.89 L276.95,273.89 L277.2,273.9 L277.45,273.9 L277.7,273.9 L277.95,273.9 L278.2,273.9 L278.45,273.9 L278.7,273.9 L278.95,273.9 L279.2,273.9 L279.45,273.9 L279.7,273.9 L279.95,273.9 L280.2,273.9 L280.45,273.9 L280.7,273.9 L280.95,273.9 L281.2,273.9" fill="none" stroke="#4a69ad" stroke-width="1.2" stroke-linejoin="round"/>
<line x1="222.7" y1="201.5" x2="222.7" y2="273.9" stroke="#000" stroke-width="1"/>
<line x1="220.1" y1="273.9" x2="222.7" y2="273.9" stroke="#000" stroke-width="0.75"/>
<line x1="221" y1="270.19" x2="222.7" y2="270.19" stroke="#000" stroke-width="0.75"/>
<line x1="221" y1="266.47" x2="222.7" y2="266.47" stroke="#000" stroke-width="0.75"/>
<line x1="221" y1="262.76" x2="222.7" y2="262.76" stroke="#000" stroke-width="0.75"/>
<line x1="220.1" y1="259.05" x2="222.7" y2="259.05" stroke="#000" stroke-width="0.75"/>
<line x1="221" y1="255.34" x2="222.7" y2="255.34" stroke="#000" stroke-width="0.75"/>
<line x1="221" y1="251.62" x2="222.7" y2="251.62" stroke="#000" stroke-width="0.75"/>
<line x1="221" y1="247.91" x2="222.7" y2="247.91" stroke="#000" stroke-width="0.75"/>
<line x1="220.1" y1="244.2" x2="222.7" y2="244.2" stroke="#000" stroke-width="0.75"/>
<line x1="221" y1="240.48" x2="222.7" y2="240.48" stroke="#000" stroke-width="0.75"/>
<line x1="221" y1="236.77" x2="222.7" y2="236.77" stroke="#000" stroke-width="0.75"/>
<line x1="221" y1="233.06" x2="222.7" y2="233.06" stroke="#000" stroke-width="0.75"/>
<line x1="220.1" y1="229.35" x2="222.7" y2="229.35" stroke="#000" stroke-width="0.75"/>
<line x1="221" y1="225.63" x2="222.7" y2="225.63" stroke="#000" stroke-width="0.75"/>
<line x1="221" y1="221.92" x2="222.7" y2="221.92" stroke="#000" stroke-width="0.75"/>
<line x1="221" y1="218.21" x2="222.7" y2="218.21" stroke="#000" stroke-width="0.75"/>
<line x1="220.1" y1="214.49" x2="222.7" y2="214.49" stroke="#000" stroke-width="0.75"/>
<line x1="221" y1="210.78" x2="222.7" y2="210.78" stroke="#000" stroke-width="0.75"/>
<line x1="221" y1="207.07" x2="222.7" y2="207.07" stroke="#000" stroke-width="0.75"/>
<line x1="221" y1="203.36" x2="222.7" y2="203.36" stroke="#000" stroke-width="0.75"/>
<line x1="222.7" y1="273.9" x2="281.3" y2="273.9" stroke="#000" stroke-width="1"/>
<line x1="222.3" y1="273.9" x2="222.3" y2="275.2" stroke="#000" stroke-width="0.6"/>
<line x1="224.5" y1="273.9" x2="224.5" y2="275.2" stroke="#000" stroke-width="0.6"/>
<line x1="226.5" y1="273.9" x2="226.5" y2="275.2" stroke="#000" stroke-width="0.6"/>
<line x1="228.3" y1="273.9" x2="228.3" y2="275.2" stroke="#000" stroke-width="0.6"/>
<line x1="229.5" y1="273.9" x2="229.5" y2="275.2" stroke="#000" stroke-width="0.6"/>
<line x1="230.8" y1="273.9" x2="230.8" y2="275.2" stroke="#000" stroke-width="0.6"/>
<line x1="236" y1="273.9" x2="236" y2="275.2" stroke="#000" stroke-width="0.6"/>
<line x1="239.5" y1="273.9" x2="239.5" y2="275.2" stroke="#000" stroke-width="0.6"/>
<line x1="242" y1="273.9" x2="242" y2="275.2" stroke="#000" stroke-width="0.6"/>
<line x1="244" y1="273.9" x2="244" y2="275.2" stroke="#000" stroke-width="0.6"/>
<line x1="245.5" y1="273.9" x2="245.5" y2="275.2" stroke="#000" stroke-width="0.6"/>
<line x1="247" y1="273.9" x2="247" y2="275.2" stroke="#000" stroke-width="0.6"/>
<line x1="248.3" y1="273.9" x2="248.3" y2="275.2" stroke="#000" stroke-width="0.6"/>
<line x1="249.5" y1="273.9" x2="249.5" y2="275.2" stroke="#000" stroke-width="0.6"/>
<line x1="250.5" y1="273.9" x2="250.5" y2="275.2" stroke="#000" stroke-width="0.6"/>
<line x1="254.6" y1="273.9" x2="254.6" y2="275.2" stroke="#000" stroke-width="0.6"/>
<line x1="261" y1="273.9" x2="261" y2="275.2" stroke="#000" stroke-width="0.6"/>
<line x1="264.5" y1="273.9" x2="264.5" y2="275.2" stroke="#000" stroke-width="0.6"/>
<line x1="267" y1="273.9" x2="267" y2="275.2" stroke="#000" stroke-width="0.6"/>
<line x1="269" y1="273.9" x2="269" y2="275.2" stroke="#000" stroke-width="0.6"/>
<line x1="270.5" y1="273.9" x2="270.5" y2="275.2" stroke="#000" stroke-width="0.6"/>
<line x1="271.8" y1="273.9" x2="271.8" y2="275.2" stroke="#000" stroke-width="0.6"/>
<line x1="273" y1="273.9" x2="273" y2="275.2" stroke="#000" stroke-width="0.6"/>
<line x1="273.8" y1="273.9" x2="273.8" y2="275.2" stroke="#000" stroke-width="0.6"/>
<line x1="280" y1="273.9" x2="280" y2="275.2" stroke="#000" stroke-width="0.6"/>
<line x1="222.3" y1="273.9" x2="222.3" y2="276.1" stroke="#000" stroke-width="0.8"/>
<line x1="230.8" y1="273.9" x2="230.8" y2="276.1" stroke="#000" stroke-width="0.8"/>
<line x1="254.6" y1="273.9" x2="254.6" y2="276.1" stroke="#000" stroke-width="0.8"/>
<line x1="273.8" y1="273.9" x2="273.8" y2="276.1" stroke="#000" stroke-width="0.8"/>
<text x="235.6" y="227" font-size="5" text-anchor="middle" fill="#333">C</text>
<text x="249.6" y="227" font-size="5" text-anchor="middle" fill="#333">i</text>
<text x="273.6" y="227.5" font-size="5" text-anchor="middle" fill="#333">n</text>
<text x="222.3" y="285.5" font-size="6.3" text-anchor="middle" fill="#222">10<tspan font-size="4" dy="-2.6">2</tspan></text>
<text x="230.6" y="285.5" font-size="6.3" text-anchor="middle" fill="#222">10<tspan font-size="4" dy="-2.6">3</tspan></text>
<text x="254.1" y="285.5" font-size="6.3" text-anchor="middle" fill="#222">10<tspan font-size="4" dy="-2.6">4</tspan></text>
<text x="273.4" y="285.5" font-size="6.3" text-anchor="middle" fill="#222">10<tspan font-size="4" dy="-2.6">5</tspan></text>
<line x1="325.2" y1="204.1" x2="325.2" y2="274.2" stroke="#000" stroke-width="1"/>
<line x1="322.5" y1="274.2" x2="325.2" y2="274.2" stroke="#000" stroke-width="0.9"/>
<text x="320.1" y="276.35" font-size="6.0" text-anchor="end" fill="#1e1e1e" letter-spacing="0.3">0</text>
<line x1="322.5" y1="260.7" x2="325.2" y2="260.7" stroke="#000" stroke-width="0.9"/>
<text x="320.1" y="262.85" font-size="6.0" text-anchor="end" fill="#1e1e1e" letter-spacing="0.3">20</text>
<line x1="322.5" y1="247.2" x2="325.2" y2="247.2" stroke="#000" stroke-width="0.9"/>
<text x="320.1" y="249.35" font-size="6.0" text-anchor="end" fill="#1e1e1e" letter-spacing="0.3">40</text>
<line x1="322.5" y1="233.7" x2="325.2" y2="233.7" stroke="#000" stroke-width="0.9"/>
<text x="320.1" y="235.85" font-size="6.0" text-anchor="end" fill="#1e1e1e" letter-spacing="0.3">60</text>
<line x1="322.5" y1="220.2" x2="325.2" y2="220.2" stroke="#000" stroke-width="0.9"/>
<text x="320.1" y="222.35" font-size="6.0" text-anchor="end" fill="#1e1e1e" letter-spacing="0.3">80</text>
<line x1="322.5" y1="206.7" x2="325.2" y2="206.7" stroke="#000" stroke-width="0.9"/>
<text x="320.1" y="208.85" font-size="6.0" text-anchor="end" fill="#1e1e1e" letter-spacing="0.3">100</text>
<line x1="323.8" y1="267.45" x2="325.2" y2="267.45" stroke="#000" stroke-width="0.8"/>
<line x1="323.8" y1="253.95" x2="325.2" y2="253.95" stroke="#000" stroke-width="0.8"/>
<line x1="323.8" y1="240.45" x2="325.2" y2="240.45" stroke="#000" stroke-width="0.8"/>
<line x1="323.8" y1="226.95" x2="325.2" y2="226.95" stroke="#000" stroke-width="0.8"/>
<line x1="323.8" y1="213.45" x2="325.2" y2="213.45" stroke="#000" stroke-width="0.8"/>
<line x1="325.2" y1="274.1" x2="370" y2="274.1" stroke="#000" stroke-width="1"/>
<line x1="347.6" y1="274.1" x2="347.6" y2="276.6" stroke="#000" stroke-width="0.9"/>
<line x1="333" y1="271.5" x2="343" y2="271.5" stroke="#333" stroke-width="0.8"/>
<circle cx="332.5" cy="272.5" r="1.3" fill="#c41230" stroke="#6a0a14" stroke-width="0.45"/>
<circle cx="336.2" cy="270.3" r="1.3" fill="#c41230" stroke="#6a0a14" stroke-width="0.45"/>
<circle cx="339.9" cy="272.2" r="1.3" fill="#c41230" stroke="#6a0a14" stroke-width="0.45"/>
<circle cx="343" cy="270.7" r="1.3" fill="#c41230" stroke="#6a0a14" stroke-width="0.45"/>
<circle cx="338" cy="271.5" r="1.3" fill="#c41230" stroke="#6a0a14" stroke-width="0.45"/>
<line x1="357.4" y1="224.4" x2="357.4" y2="240.8" stroke="#3a3a3a" stroke-width="0.8"/>
<line x1="354.2" y1="224.4" x2="360.6" y2="224.4" stroke="#3a3a3a" stroke-width="0.8"/>
<line x1="354.2" y1="240.8" x2="360.6" y2="240.8" stroke="#3a3a3a" stroke-width="0.8"/>
<line x1="350.9" y1="232.4" x2="363.9" y2="232.4" stroke="#3a3a3a" stroke-width="1"/>
<circle cx="357.4" cy="219.3" r="1.35" fill="#1d3570" stroke="#081230" stroke-width="0.45"/>
<circle cx="351.8" cy="221.8" r="1.35" fill="#1d3570" stroke="#081230" stroke-width="0.45"/>
<circle cx="363" cy="223.1" r="1.35" fill="#1d3570" stroke="#081230" stroke-width="0.45"/>
<circle cx="351.8" cy="224.4" r="1.35" fill="#1d3570" stroke="#081230" stroke-width="0.45"/>
<circle cx="351.8" cy="228.7" r="1.35" fill="#1d3570" stroke="#081230" stroke-width="0.45"/>
<circle cx="357.4" cy="233.4" r="1.35" fill="#1d3570" stroke="#081230" stroke-width="0.45"/>
<circle cx="352.7" cy="233.9" r="1.35" fill="#1d3570" stroke="#081230" stroke-width="0.45"/>
<circle cx="363" cy="234.3" r="1.35" fill="#1d3570" stroke="#081230" stroke-width="0.45"/>
<circle cx="357" cy="236.5" r="1.35" fill="#1d3570" stroke="#081230" stroke-width="0.45"/>
<circle cx="351.8" cy="239.3" r="1.35" fill="#1d3570" stroke="#081230" stroke-width="0.45"/>
<circle cx="357.4" cy="239.9" r="1.35" fill="#1d3570" stroke="#081230" stroke-width="0.45"/>
<circle cx="363" cy="239.9" r="1.35" fill="#1d3570" stroke="#081230" stroke-width="0.45"/>
<circle cx="357.4" cy="244.6" r="1.35" fill="#1d3570" stroke="#081230" stroke-width="0.45"/>
<circle cx="357.4" cy="227" r="1.35" fill="#1d3570" stroke="#081230" stroke-width="0.45"/>
<line x1="336.3" y1="214.6" x2="355.9" y2="214.6" stroke="#6c6c6c" stroke-width="1.4"/>
<ellipse cx="343.1" cy="211.8" rx="0.72" ry="0.68" fill="#4a4a4a"/>
<ellipse cx="345.1" cy="211.8" rx="0.72" ry="0.68" fill="#4a4a4a"/>
<ellipse cx="347.1" cy="211.8" rx="0.72" ry="0.68" fill="#4a4a4a"/>
<ellipse cx="349.1" cy="211.8" rx="0.72" ry="0.68" fill="#4a4a4a"/>
<text x="347.6" y="285.6" font-size="6.5" text-anchor="middle" fill="#1e1e1e" textLength="15.6" lengthAdjust="spacingAndGlyphs" stroke="#1e1e1e" stroke-width="0.1">RCA-I</text>
<text x="302.2" y="239" font-size="7.6" text-anchor="middle" fill="#1a1a1a" transform="rotate(-90 302.2 239)" textLength="52.4" lengthAdjust="spacingAndGlyphs" stroke="#1a1a1a" stroke-width="0.22">% of total platelets</text>
<line x1="414.2" y1="204" x2="414.2" y2="273.9" stroke="#000" stroke-width="1"/>
<line x1="411.5" y1="273.9" x2="414.2" y2="273.9" stroke="#000" stroke-width="0.9"/>
<text x="409.1" y="276.05" font-size="6.0" text-anchor="end" fill="#1e1e1e" letter-spacing="0.3">0</text>
<line x1="411.5" y1="260.12" x2="414.2" y2="260.12" stroke="#000" stroke-width="0.9"/>
<text x="409.1" y="262.27" font-size="6.0" text-anchor="end" fill="#1e1e1e" letter-spacing="0.3">20</text>
<line x1="411.5" y1="246.34" x2="414.2" y2="246.34" stroke="#000" stroke-width="0.9"/>
<text x="409.1" y="248.49" font-size="6.0" text-anchor="end" fill="#1e1e1e" letter-spacing="0.3">40</text>
<line x1="411.5" y1="232.56" x2="414.2" y2="232.56" stroke="#000" stroke-width="0.9"/>
<text x="409.1" y="234.71" font-size="6.0" text-anchor="end" fill="#1e1e1e" letter-spacing="0.3">60</text>
<line x1="411.5" y1="218.78" x2="414.2" y2="218.78" stroke="#000" stroke-width="0.9"/>
<text x="409.1" y="220.93" font-size="6.0" text-anchor="end" fill="#1e1e1e" letter-spacing="0.3">80</text>
<line x1="411.5" y1="205" x2="414.2" y2="205" stroke="#000" stroke-width="0.9"/>
<text x="409.1" y="207.15" font-size="6.0" text-anchor="end" fill="#1e1e1e" letter-spacing="0.3">100</text>
<line x1="412.8" y1="267.01" x2="414.2" y2="267.01" stroke="#000" stroke-width="0.8"/>
<line x1="412.8" y1="253.23" x2="414.2" y2="253.23" stroke="#000" stroke-width="0.8"/>
<line x1="412.8" y1="239.45" x2="414.2" y2="239.45" stroke="#000" stroke-width="0.8"/>
<line x1="412.8" y1="225.67" x2="414.2" y2="225.67" stroke="#000" stroke-width="0.8"/>
<line x1="412.8" y1="211.89" x2="414.2" y2="211.89" stroke="#000" stroke-width="0.8"/>
<line x1="413.4" y1="273.9" x2="460.5" y2="273.9" stroke="#000" stroke-width="1"/>
<line x1="437" y1="273.9" x2="437" y2="276.4" stroke="#000" stroke-width="0.9"/>
<circle cx="421.5" cy="273.6" r="1.3" fill="#c41230" stroke="#6a0a14" stroke-width="0.45"/>
<circle cx="425.4" cy="273.2" r="1.3" fill="#c41230" stroke="#6a0a14" stroke-width="0.45"/>
<circle cx="428.9" cy="273.2" r="1.3" fill="#c41230" stroke="#6a0a14" stroke-width="0.45"/>
<circle cx="432.8" cy="273.2" r="1.3" fill="#c41230" stroke="#6a0a14" stroke-width="0.45"/>
<line x1="447.1" y1="224.4" x2="447.1" y2="244.5" stroke="#3a3a3a" stroke-width="0.8"/>
<line x1="444" y1="224.4" x2="450.2" y2="224.4" stroke="#3a3a3a" stroke-width="0.8"/>
<line x1="444" y1="244.5" x2="450.2" y2="244.5" stroke="#3a3a3a" stroke-width="0.8"/>
<line x1="440.8" y1="234.3" x2="453.4" y2="234.3" stroke="#3a3a3a" stroke-width="1"/>
<circle cx="443.7" cy="219" r="1.35" fill="#1d3570" stroke="#081230" stroke-width="0.45"/>
<circle cx="446.5" cy="218.8" r="1.35" fill="#1d3570" stroke="#081230" stroke-width="0.45"/>
<circle cx="449.7" cy="218.4" r="1.35" fill="#1d3570" stroke="#081230" stroke-width="0.45"/>
<circle cx="446.9" cy="226.4" r="1.35" fill="#1d3570" stroke="#081230" stroke-width="0.45"/>
<circle cx="446.5" cy="230.9" r="1.35" fill="#1d3570" stroke="#081230" stroke-width="0.45"/>
<circle cx="444.6" cy="234.7" r="1.35" fill="#1d3570" stroke="#081230" stroke-width="0.45"/>
<circle cx="447.4" cy="234.3" r="1.35" fill="#1d3570" stroke="#081230" stroke-width="0.45"/>
<circle cx="449.7" cy="235.2" r="1.35" fill="#1d3570" stroke="#081230" stroke-width="0.45"/>
<circle cx="447" cy="239" r="1.35" fill="#1d3570" stroke="#081230" stroke-width="0.45"/>
<circle cx="441.4" cy="244.2" r="1.35" fill="#1d3570" stroke="#081230" stroke-width="0.45"/>
<circle cx="443.7" cy="244.6" r="1.35" fill="#1d3570" stroke="#081230" stroke-width="0.45"/>
<circle cx="446.5" cy="244.6" r="1.35" fill="#1d3570" stroke="#081230" stroke-width="0.45"/>
<circle cx="449.3" cy="244.6" r="1.35" fill="#1d3570" stroke="#081230" stroke-width="0.45"/>
<circle cx="452.1" cy="245" r="1.35" fill="#1d3570" stroke="#081230" stroke-width="0.45"/>
<line x1="424.6" y1="213.5" x2="446.5" y2="213.5" stroke="#2a2a2a" stroke-width="1.1"/>
<ellipse cx="432.55" cy="210.7" rx="0.72" ry="0.68" fill="#4a4a4a"/>
<ellipse cx="434.55" cy="210.7" rx="0.72" ry="0.68" fill="#4a4a4a"/>
<ellipse cx="436.55" cy="210.7" rx="0.72" ry="0.68" fill="#4a4a4a"/>
<ellipse cx="438.55" cy="210.7" rx="0.72" ry="0.68" fill="#4a4a4a"/>
<text x="437" y="285.7" font-size="6.5" text-anchor="middle" fill="#1e1e1e" textLength="17.6" lengthAdjust="spacingAndGlyphs" stroke="#1e1e1e" stroke-width="0.1">MAL-II</text>
<text x="391.6" y="239" font-size="7.6" text-anchor="middle" fill="#1a1a1a" transform="rotate(-90 391.6 239)" textLength="52.4" lengthAdjust="spacingAndGlyphs" stroke="#1a1a1a" stroke-width="0.22">% of total platelets</text>
<circle cx="467" cy="262" r="1.3" fill="#c41230" stroke="#6a0a14" stroke-width="0.45"/>
<text x="471.1" y="264" font-size="5.0" text-anchor="start" fill="#333">Uninfected</text>
<circle cx="467" cy="268.8" r="1.3" fill="#1d3570" stroke="#081230" stroke-width="0.45"/>
<text x="471.1" y="270.9" font-size="5.0" text-anchor="start" fill="#333">Infected</text>
</svg></body></html>
